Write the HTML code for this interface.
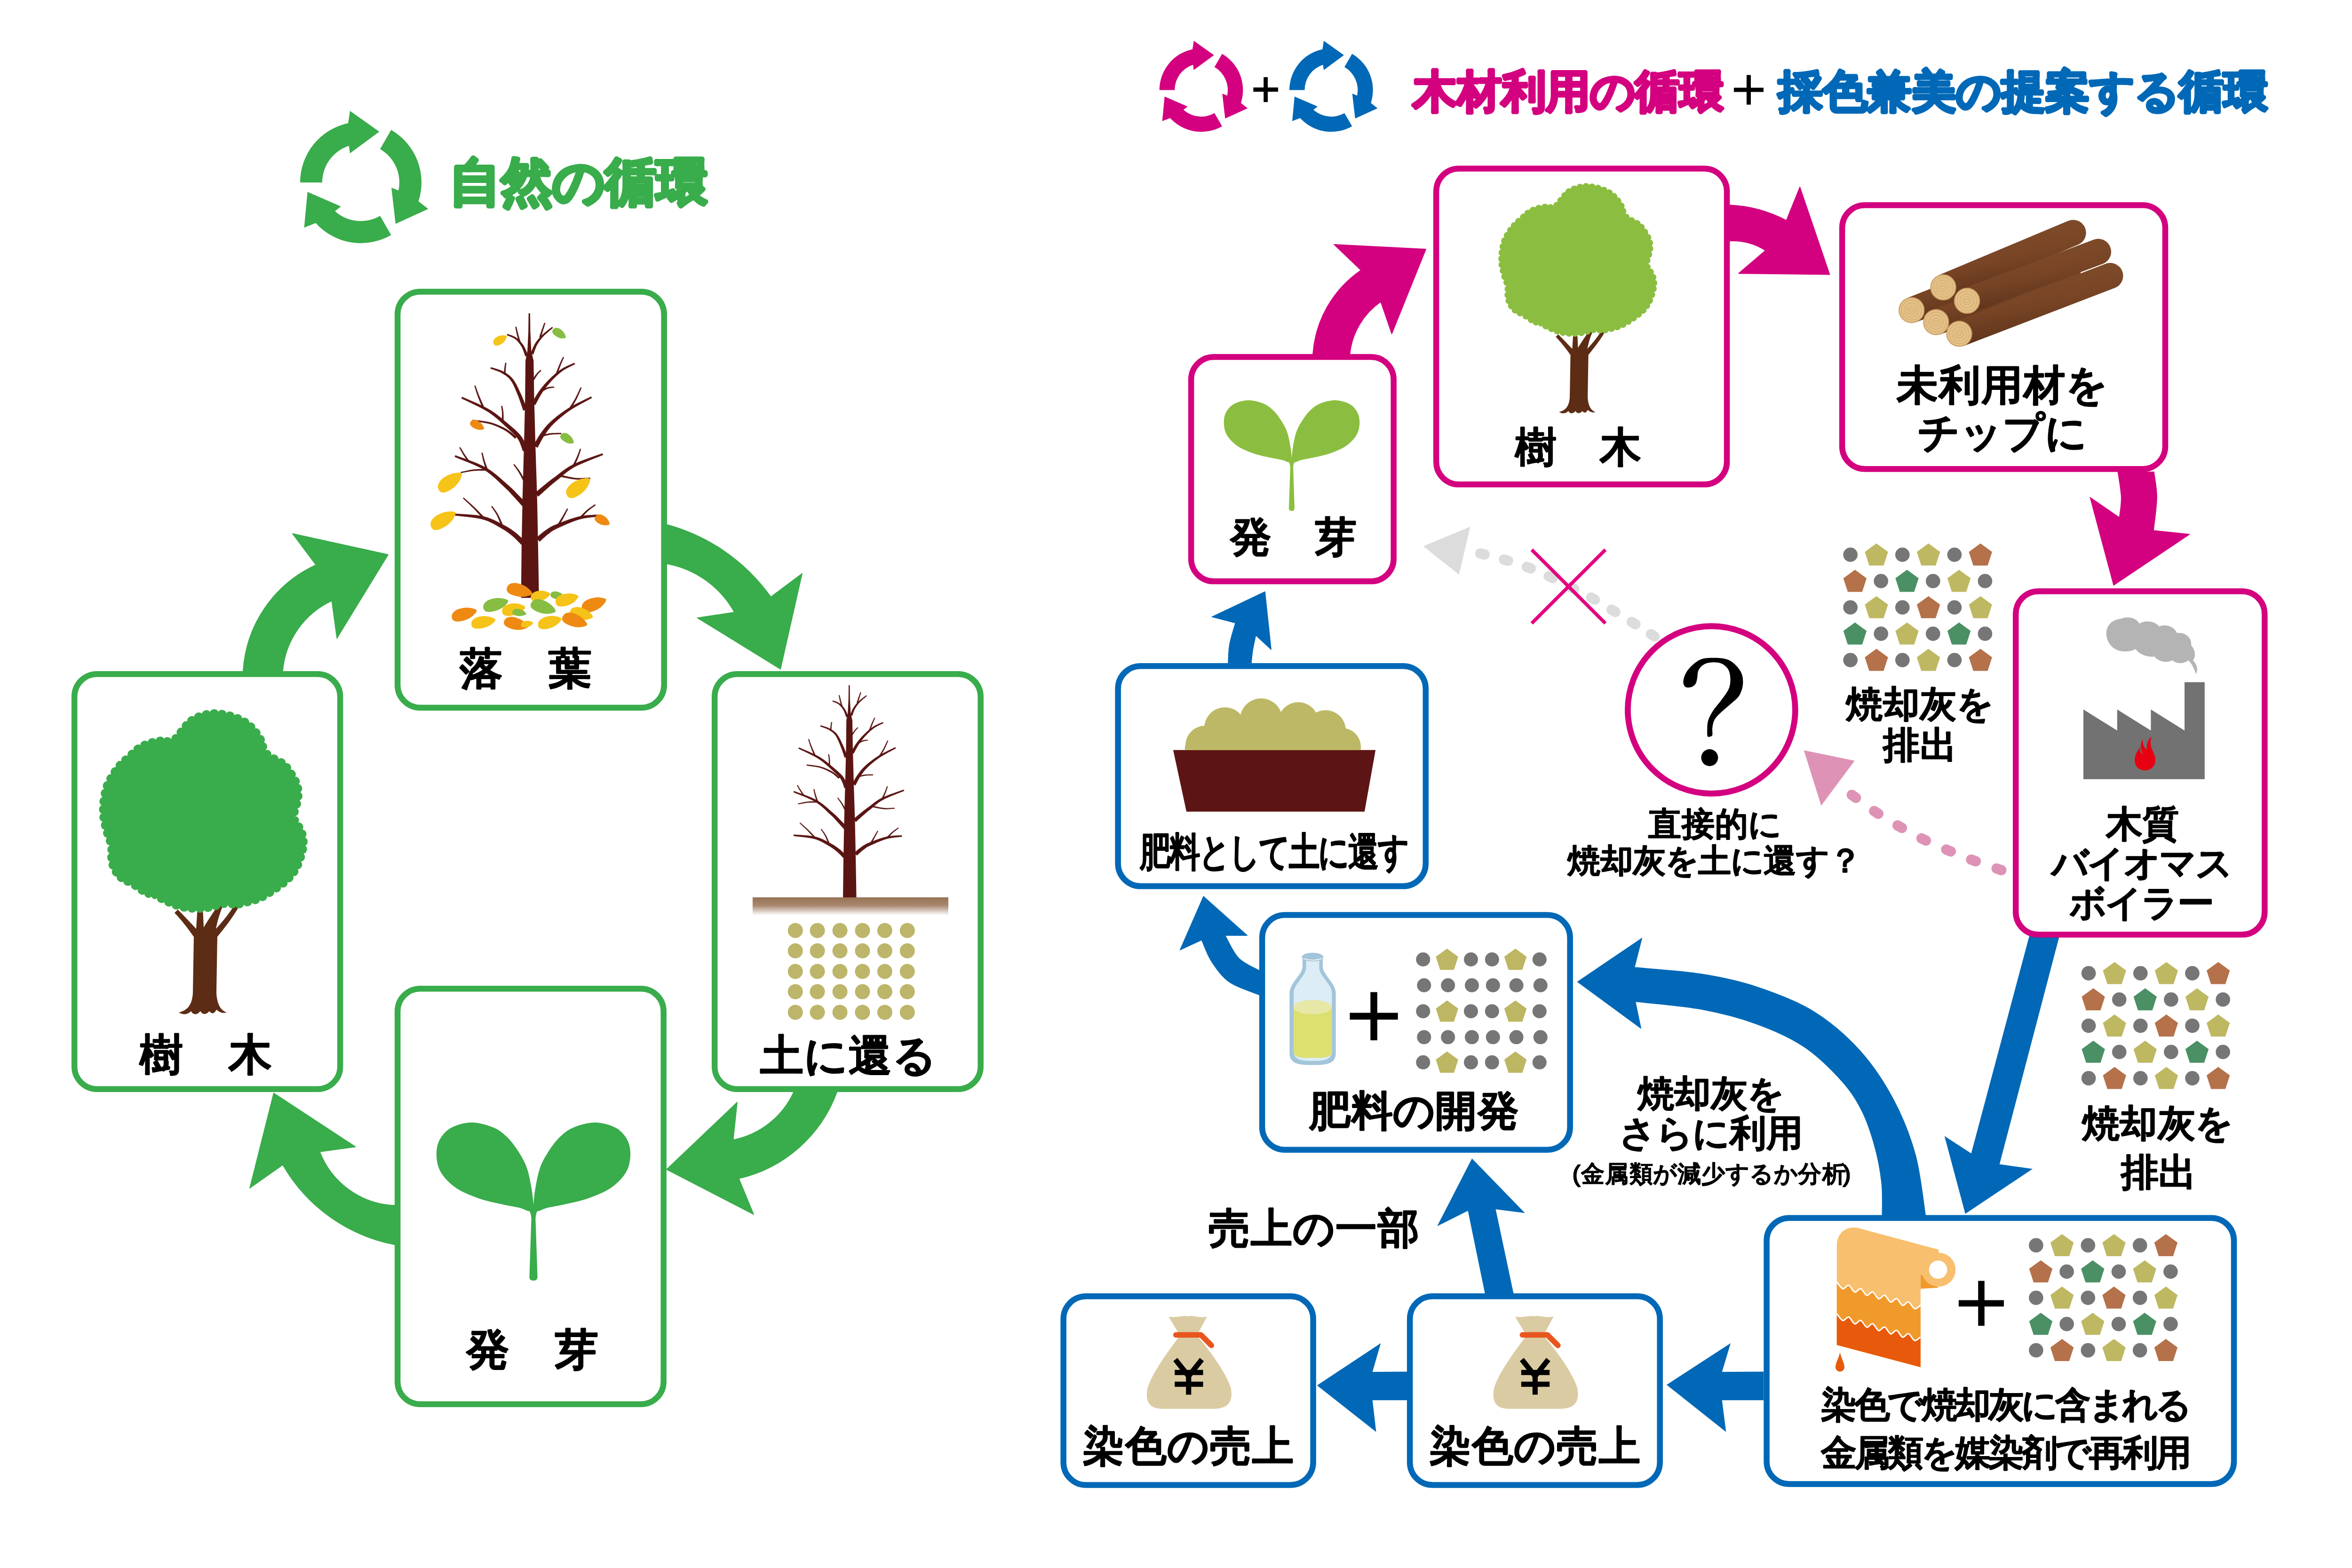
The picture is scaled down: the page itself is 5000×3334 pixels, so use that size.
<!DOCTYPE html>
<html lang="ja"><head><meta charset="utf-8"><title>自然の循環 / 木材利用の循環＋採色兼美の提案する循環</title>
<style>html,body{margin:0;padding:0;background:#fff;width:5000px;height:3334px;overflow:hidden}
svg{display:block;font-family:"Liberation Sans",sans-serif}</style></head><body>
<svg width="5000" height="3334" viewBox="0 0 5000 3334"><rect width="5000" height="3334" fill="#fff"/>
<path d="M638,388 A129,129 0 0 1 740.2,261.8 L744,235.7 L806.3,279.9 L744,326.1 L741.7,310 A82,82 0 0 0 685,388Z M831.5,276.3 A129,129 0 0 1 889.7,427.9 L910.4,444.2 L840.9,476.1 L832.1,399 L847.2,405 A82,82 0 0 0 808,317Z M831.5,499.7 A129,129 0 0 1 671.1,474.3 L646.6,484.1 L653.7,408 L724.9,438.9 L712.1,448.9 A82,82 0 0 0 808,459Z " fill="#39ac4b"/>
<text x="1010 1120 1230 1340 1450" y="424.7" font-size="110" fill="#39ac4b" font-weight="bold" stroke="#39ac4b" stroke-width="6.9" stroke-linejoin="round" text-anchor="middle" font-family="Liberation Sans">自然の循環</text>
<path d="M516.8,1427 A265.7,265.7 0 0 1 671.4,1201.1 L621.7,1134.5 L825.2,1179.3 L716.2,1357.4 L705.3,1277.5 A181.9,181.9 0 0 0 601,1427Z" fill="#39ac4b" stroke="#39ac4b" stroke-width="1.5" stroke-linejoin="round"/>
<path d="M1417,1115.1 A398.9,398.9 0 0 1 1638.6,1269 L1705.3,1219.3 L1659.2,1422.8 L1482.4,1313.8 L1561,1301.7 A206.5,206.5 0 0 0 1417,1198.7Z" fill="#39ac4b" stroke="#39ac4b" stroke-width="1.5" stroke-linejoin="round"/>
<path d="M1779.2,2322.3 A291,291 0 0 1 1570.8,2505.9 L1602.3,2582.3 L1417,2486.6 L1567.2,2343.6 L1558.7,2423.6 A179.7,179.7 0 0 0 1687.1,2322.3Z" fill="#39ac4b" stroke="#39ac4b" stroke-width="1.5" stroke-linejoin="round"/>
<path d="M839,2646.5 A350.6,350.6 0 0 1 601.1,2476.9 L530.9,2526.5 L581.8,2324.2 L756.2,2438.6 L679.9,2449 A178.4,178.4 0 0 0 839,2563Z" fill="#39ac4b" stroke="#39ac4b" stroke-width="1.5" stroke-linejoin="round"/>
<rect x="845.2" y="620.2" width="566.5" height="884.5" rx="48" fill="#fff" stroke="#39ac4b" stroke-width="12.5"/>
<rect x="158.2" y="1433.2" width="565" height="882.5" rx="48" fill="#fff" stroke="#39ac4b" stroke-width="12.5"/>
<rect x="1519.2" y="1433.2" width="565.5" height="882.5" rx="48" fill="#fff" stroke="#39ac4b" stroke-width="12.5"/>
<rect x="845.2" y="2102.2" width="565.5" height="883.5" rx="48" fill="#fff" stroke="#39ac4b" stroke-width="12.5"/>
<text x="1022.5 1211.5" y="1453" font-size="92" fill="#000" stroke="#000" stroke-width="4.6" stroke-linejoin="round" text-anchor="middle" font-family="Liberation Sans">落葉</text>
<text x="343 531.6" y="2274" font-size="92" fill="#000" stroke="#000" stroke-width="4.6" stroke-linejoin="round" text-anchor="middle" font-family="Liberation Sans">樹木</text>
<text x="1661.5 1755.5 1849.5 1943.5" y="2276" font-size="92" fill="#000" stroke="#000" stroke-width="4.6" stroke-linejoin="round" text-anchor="middle" font-family="Liberation Sans">土に還る</text>
<text x="1037 1226" y="2901" font-size="92" fill="#000" stroke="#000" stroke-width="4.6" stroke-linejoin="round" text-anchor="middle" font-family="Liberation Sans">発芽</text>
<path d="M2464.8,191.5 A88.8,88.8 0 0 1 2535.1,104.7 L2537.8,86.7 L2580.7,117.2 L2537.8,148.9 L2536.2,137.8 A56.4,56.4 0 0 0 2497.2,191.5Z M2598,114.6 A88.8,88.8 0 0 1 2638,218.9 L2652.2,230.2 L2604.5,252.1 L2598.4,199.1 L2608.8,203.2 A56.4,56.4 0 0 0 2581.8,142.6Z M2598,268.4 A88.8,88.8 0 0 1 2487.6,250.9 L2470.8,257.6 L2475.7,205.2 L2524.7,226.5 L2515.9,233.4 A56.4,56.4 0 0 0 2581.8,240.4Z " fill="#d3007f"/>
<path d="M2741.1,191.5 A88.8,88.8 0 0 1 2811.4,104.7 L2814.1,86.7 L2857,117.2 L2814.1,148.9 L2812.5,137.8 A56.4,56.4 0 0 0 2773.5,191.5Z M2874.3,114.6 A88.8,88.8 0 0 1 2914.3,218.9 L2928.5,230.2 L2880.8,252.1 L2874.7,199.1 L2885.1,203.2 A56.4,56.4 0 0 0 2858.1,142.6Z M2874.3,268.4 A88.8,88.8 0 0 1 2763.9,250.9 L2747.1,257.6 L2752,205.2 L2801,226.5 L2792.2,233.4 A56.4,56.4 0 0 0 2858.1,240.4Z " fill="#0068b6"/>
<path d="M2664.4,190.5 H2717 M2690.7,164 V217" stroke="#000" stroke-width="8.8"/>
<text x="3050 3144.5 3239 3333.5 3428 3522.5 3617" y="227.2" font-size="95" fill="#d3007f" font-weight="bold" stroke="#d3007f" stroke-width="5.9" stroke-linejoin="round" text-anchor="middle" font-family="Liberation Sans">木材利用の循環</text>
<path d="M3686,191 H3749 M3717.5,159.5 V222.5" stroke="#000" stroke-width="9"/>
<text x="3827.5 3922.2 4016.9 4111.6 4206.3 4301 4395.7 4490.4 4585.1 4679.8 4774.5" y="227.2" font-size="95" fill="#0068b6" font-weight="bold" stroke="#0068b6" stroke-width="5.9" stroke-linejoin="round" text-anchor="middle" font-family="Liberation Sans">採色兼美の提案する循環</text>
<path d="M2791,752.7 A236.7,236.7 0 0 1 2893,574.5 L2835.8,519.8 L3031.3,529.8 L2958.7,709.9 L2935.3,641.7 A155.5,155.5 0 0 0 2869.6,752.7Z" fill="#d3007f" stroke="#d3007f" stroke-width="1.5" stroke-linejoin="round"/>
<path d="M3677.4,436.1 A284.5,284.5 0 0 1 3797.5,468.7 L3826.3,397.5 L3889.7,583.7 L3696,581.4 L3753,532.5 A131.9,131.9 0 0 0 3677.4,512.5Z" fill="#d3007f" stroke="#d3007f" stroke-width="1.5" stroke-linejoin="round"/>
<path d="M4579,1003.5 C4580,1012.5 4585.3,1036.8 4585.1,1057.6 C4584.9,1078.3 4579.2,1116.3 4578,1128 L4654.5,1136.1 L4493.3,1244.3 L4443.3,1057.6 L4505.5,1100.4 C4506.2,1093.3 4510.1,1073.8 4509.6,1057.6 C4509.1,1041.4 4503.6,1012.5 4502.4,1003.5Z" fill="#d3007f" stroke="#d3007f" stroke-width="1.5" stroke-linejoin="round"/>
<path d="M2611,1410 C2611.5,1403.3 2611.4,1384.2 2614,1370 C2616.6,1355.8 2624.2,1332.2 2626.3,1324.6 L2576.4,1311.6 L2689.1,1258.2 L2702.2,1381 L2669.6,1350.6 C2668.5,1356 2664.6,1373.1 2663,1383 C2661.4,1392.9 2660.5,1405.5 2660,1410Z" fill="#0068b6" stroke="#0068b6" stroke-width="1.5" stroke-linejoin="round"/>
<path d="M2677,2115.3 C2666.5,2110.8 2630.9,2100.3 2614,2088.5 C2597.1,2076.7 2585.6,2059.5 2575.7,2044.5 C2565.8,2029.5 2558.1,2006.2 2554.6,1998.6 L2508.7,2019.7 L2558.4,1906 L2651.4,1989 L2604.4,1989 C2609.2,1997 2620.9,2024.5 2633,2036.9 C2645.1,2049.3 2669.7,2059.2 2677,2063.7Z" fill="#0068b6" stroke="#0068b6" stroke-width="1.5" stroke-linejoin="round"/>
<path d="M4093.3,2585 C4089.7,2563.2 4083.1,2496 4071.6,2454.5 C4060.1,2413 4043.9,2372.8 4024.1,2335.9 C4004.3,2299 3981.3,2264 3953,2233 C3924.7,2202 3890.4,2172.4 3854.1,2150 C3817.8,2127.6 3774.9,2111.8 3735.4,2098.6 C3695.9,2085.4 3660.3,2077.9 3616.8,2071 C3573.3,2064.1 3498.2,2059.4 3474.5,2057.1 L3490.3,1995 L3353.8,2087.6 L3488.3,2186.4 L3476.4,2129.5 C3499.8,2132.3 3573.6,2138.1 3616.8,2146.1 C3660,2154.1 3699.2,2164.5 3735.4,2177.7 C3771.7,2190.9 3804.6,2205.4 3834.3,2225.2 C3864,2245 3893,2274 3913.4,2296.4 C3933.8,2318.8 3945,2336.5 3956.9,2359.6 C3968.8,2382.7 3977.4,2409.1 3984.6,2434.8 C3991.8,2460.5 3997.2,2488.9 4000,2513.9 C4002.8,2538.9 4001.2,2573.2 4001.4,2585Z" fill="#0068b6" stroke="#0068b6" stroke-width="1.5" stroke-linejoin="round"/>
<path d="M4314.7,1987.4 L4378.7,1987.4 L4250.7,2475.6 L4321,2485.3 L4177.9,2580.9 L4133.7,2415.4 L4190.5,2452.5Z" fill="#0068b6" />
<path d="M3749.3,2916.4 L3660.8,2917 L3679,2856 L3543,2944.5 L3669.3,3044.7 L3660.8,2977.3 L3749.3,2977.3Z" fill="#0068b6" />
<path d="M2991,2916.4 L2917.7,2917 L2935.3,2856 L2799.8,2945.8 L2925.5,3044.7 L2917.7,2977.3 L2991,2977.3Z" fill="#0068b6" />
<path d="M3156.7,2750 L3120.6,2574.6 L3055.2,2607.3 L3129.2,2463.3 L3241.8,2579.2 L3179.6,2571.3 L3217.5,2750Z" fill="#0068b6" />
<rect x="2532.2" y="759" width="430.5" height="477.1" rx="48" fill="#fff" stroke="#d3007f" stroke-width="12.5"/>
<rect x="3053.2" y="358.6" width="617.9" height="671.5" rx="48" fill="#fff" stroke="#d3007f" stroke-width="12.5"/>
<rect x="3916.2" y="436.2" width="686.8" height="561" rx="48" fill="#fff" stroke="#d3007f" stroke-width="12.5"/>
<rect x="4285.2" y="1257.2" width="529.1" height="730.1" rx="48" fill="#fff" stroke="#d3007f" stroke-width="12.5"/>
<rect x="2376.7" y="1416.2" width="654.1" height="468.1" rx="48" fill="#fff" stroke="#0068b6" stroke-width="12.5"/>
<rect x="2683.2" y="1945.5" width="654.5" height="499.2" rx="48" fill="#fff" stroke="#0068b6" stroke-width="12.5"/>
<rect x="3755.6" y="2589.7" width="993.4" height="565.7" rx="48" fill="#fff" stroke="#0068b6" stroke-width="12.5"/>
<rect x="2997.2" y="2756.2" width="531.5" height="401.3" rx="48" fill="#fff" stroke="#0068b6" stroke-width="12.5"/>
<rect x="2260.7" y="2756.2" width="530.9" height="401.3" rx="48" fill="#fff" stroke="#0068b6" stroke-width="12.5"/>
<text x="2658.5 2839.5" y="1171.6" font-size="88" fill="#000" stroke="#000" stroke-width="4.4" stroke-linejoin="round" text-anchor="middle" font-family="Liberation Sans">発芽</text>
<text x="3265 3444.8" y="981.3" font-size="88" fill="#000" stroke="#000" stroke-width="4.4" stroke-linejoin="round" text-anchor="middle" font-family="Liberation Sans">樹木</text>
<text x="4076.4 4166.2 4256 4345.8 4435.6" y="849.1" font-size="88" fill="#000" stroke="#000" stroke-width="4.4" stroke-linejoin="round" text-anchor="middle" font-family="Liberation Sans">未利用材を</text>
<text x="4122.3 4212.1 4301.9 4391.7" y="949.6" font-size="88" fill="#000" stroke="#000" stroke-width="4.4" stroke-linejoin="round" text-anchor="middle" font-family="Liberation Sans">チップに</text>
<text x="4515.5 4592.5" y="1778.9" font-size="78" fill="#000" stroke="#000" stroke-width="3.9" stroke-linejoin="round" text-anchor="middle" font-family="Liberation Sans">木質</text>
<text x="4400.5 4477 4553.5 4630 4706.5" y="1861.9" font-size="78" fill="#000" stroke="#000" stroke-width="3.9" stroke-linejoin="round" text-anchor="middle" font-family="Liberation Sans">バイオマス</text>
<text x="4438.8 4515.2 4591.8 4668.2" y="1946.6" font-size="78" fill="#000" stroke="#000" stroke-width="3.9" stroke-linejoin="round" text-anchor="middle" font-family="Liberation Sans">ボイラー</text>
<text x="3962.9 4041.7 4120.4 4199.1" y="1523.9" font-size="78" fill="#000" stroke="#000" stroke-width="3.9" stroke-linejoin="round" text-anchor="middle" font-family="Liberation Sans">焼却灰を</text>
<text x="4042.2 4120.9" y="1610.9" font-size="78" fill="#000" stroke="#000" stroke-width="3.9" stroke-linejoin="round" text-anchor="middle" font-family="Liberation Sans">排出</text>
<text x="3539.2 3610.1 3680.9 3751.8" y="1776.2" font-size="70" fill="#000" stroke="#000" stroke-width="3.5" stroke-linejoin="round" text-anchor="middle" font-family="Liberation Sans">直接的に</text>
<text x="3367 3436.5 3506 3575.5 3645 3714.5 3784 3853.5 3923" y="1853.7" font-size="70" fill="#000" stroke="#000" stroke-width="3.5" stroke-linejoin="round" text-anchor="middle" font-family="Liberation Sans">焼却灰を土に還す？</text>
<text transform="scale(0.78,1)" x="3148.5 3229.6 3310.8 3391.9 3473.1 3554.2 3635.4 3716.5 3797.7" y="1840.1" font-size="84" fill="#000" stroke="#000" stroke-width="4.2" stroke-linejoin="round" text-anchor="middle" font-family="Liberation Sans">肥料として土に還す</text>
<text x="2827.2 2916.6 3006 3095.4 3184.8" y="2391.6" font-size="88" fill="#000" stroke="#000" stroke-width="4.4" stroke-linejoin="round" text-anchor="middle" font-family="Liberation Sans">肥料の開発</text>
<text x="3520 3598 3676 3754" y="2351.7" font-size="78" fill="#000" stroke="#000" stroke-width="3.9" stroke-linejoin="round" text-anchor="middle" font-family="Liberation Sans">焼却灰を</text>
<text x="3482.2 3560.1 3638 3715.9 3793.8" y="2435.9" font-size="78" fill="#000" stroke="#000" stroke-width="3.9" stroke-linejoin="round" text-anchor="middle" font-family="Liberation Sans">さらに利用</text>
<text x="3386 3437.3 3488.5 3539.8 3591 3642.3 3693.6 3744.8 3796.1 3847.3 3898.6" y="2512.9" font-size="50" fill="#000" stroke="#000" stroke-width="2.5" stroke-linejoin="round" text-anchor="middle" font-family="Liberation Sans">金属類が減少するか分析</text>
<text x="3351" y="2512.9" font-size="50" fill="#000" stroke="#000" stroke-width="2.5" stroke-linejoin="round" text-anchor="middle" font-family="Liberation Sans">(</text>
<text x="3926" y="2512.9" font-size="50" fill="#000" stroke="#000" stroke-width="2.5" stroke-linejoin="round" text-anchor="middle" font-family="Liberation Sans">)</text>
<defs><linearGradient id="soil" x1="0" y1="0" x2="0" y2="1"><stop offset="0" stop-color="#987254"/><stop offset="0.45" stop-color="#a7876e"/><stop offset="1" stop-color="#fff"/></linearGradient><linearGradient id="logg" x1="0" y1="0" x2="0.35" y2="1"><stop offset="0" stop-color="#84502e"/><stop offset="0.6" stop-color="#774425"/><stop offset="1" stop-color="#5a3018"/></linearGradient></defs>
<g ><path d="M380,2153 C398,2148 408,2138 410,2112 L412,1992 C400,1975 385,1955 371,1941 L378,1934 C392,1948 405,1962 417,1975 L420,1928 L431,1928 L433,1972 C443,1955 455,1938 464,1924 L473,1928 C466,1945 462,1960 459,1975 C473,1960 486,1944 498,1925 L506,1931 C494,1952 478,1972 462,1992 L460,2112 C462,2138 470,2148 482,2153 C470,2156 465,2150 460,2147 C456,2154 452,2158 445,2150 C440,2156 432,2160 426,2150 C420,2157 412,2160 406,2150 C398,2158 390,2158 380,2153Z" fill="#5d2c14"/><path d="M464,1513.2 A9.9,9.9 0 0 1 481.3,1516.2 A9.9,9.9 0 0 1 498.4,1520.7 A9.8,9.8 0 0 1 514.6,1527.4 A9.8,9.8 0 0 1 529.6,1536.6 A9.8,9.8 0 0 1 542.3,1548.7 A9.9,9.9 0 0 1 552.8,1562.8 A9.8,9.8 0 0 1 561.1,1578.3 A9.7,9.7 0 0 1 564,1595.3 A9.1,9.1 0 0 1 576.4,1606.1 A9.9,9.9 0 0 1 592.1,1613.8 A9.8,9.8 0 0 1 607.3,1622.8 A9.8,9.8 0 0 1 618.1,1636.5 A9.9,9.9 0 0 1 627.4,1651.4 A9.8,9.8 0 0 1 635.2,1667.2 A9.8,9.8 0 0 1 638.5,1684.4 A9.8,9.8 0 0 1 636.5,1701.8 A9.9,9.9 0 0 1 632.2,1718.9 A9.8,9.8 0 0 1 626.5,1735.5 A8.6,8.6 0 0 1 634.2,1748.8 A9.8,9.8 0 0 1 643.1,1763.8 A9.8,9.8 0 0 1 648.4,1780.6 A9.8,9.8 0 0 1 648.9,1798.1 A9.8,9.8 0 0 1 645.3,1815.3 A9.9,9.9 0 0 1 639.9,1832.1 A9.8,9.8 0 0 1 633.1,1848.3 A9.8,9.8 0 0 1 623.2,1862.8 A9.8,9.8 0 0 1 611.1,1875.6 A9.9,9.9 0 0 1 597.2,1886.3 A9.9,9.9 0 0 1 582.7,1896.3 A9.9,9.9 0 0 1 567.9,1905.8 A9.9,9.9 0 0 1 552.3,1914 A9.8,9.8 0 0 1 535.7,1919.6 A9.9,9.9 0 0 1 518.5,1923.5 A9.9,9.9 0 0 1 501.4,1927.8 A9.6,9.6 0 0 1 484.7,1924.3 A9.2,9.2 0 0 1 468.3,1926.5 A9.8,9.8 0 0 1 451.6,1932 A9.8,9.8 0 0 1 434.3,1934.9 A9.9,9.9 0 0 1 416.7,1935.8 A9.9,9.9 0 0 1 399.2,1934.5 A9.9,9.9 0 0 1 381.9,1931.2 A9.8,9.8 0 0 1 365.3,1925.4 A9.9,9.9 0 0 1 349.2,1918.3 A9.8,9.8 0 0 1 333.8,1909.8 A6.7,6.7 0 0 1 322.4,1906.2 A9,9 0 0 1 307,1901.6 A9.9,9.9 0 0 1 293,1891 A9.8,9.8 0 0 1 278.5,1881 A9.8,9.8 0 0 1 262.2,1874.5 A9.8,9.8 0 0 1 248.4,1863.7 A9.8,9.8 0 0 1 239.3,1848.8 A9.8,9.8 0 0 1 233.7,1832.1 A9.8,9.8 0 0 1 233.1,1814.6 A9.6,9.6 0 0 1 234,1797.5 A9.9,9.9 0 0 1 227.3,1781.2 A9.9,9.9 0 0 1 222.1,1764.4 A9.9,9.9 0 0 1 218.1,1747.3 A9.8,9.8 0 0 1 215.8,1729.8 A9.9,9.9 0 0 1 216,1712.2 A9.9,9.9 0 0 1 217.9,1694.7 A9.9,9.9 0 0 1 221.2,1677.5 A9.8,9.8 0 0 1 227.6,1661.1 A9.9,9.9 0 0 1 236.4,1645.9 A9.9,9.9 0 0 1 246.5,1631.4 A9.8,9.8 0 0 1 258,1618.2 A9.9,9.9 0 0 1 271.7,1607.1 A9.9,9.9 0 0 1 283.9,1594.4 A9.8,9.8 0 0 1 298.2,1584.3 A9.8,9.8 0 0 1 314.2,1577 A9.9,9.9 0 0 1 331.3,1572.9 A9.9,9.9 0 0 1 348.8,1570.5 A9.4,9.4 0 0 1 365.1,1574.4 A9.8,9.8 0 0 1 376.4,1561.1 A9.9,9.9 0 0 1 387.4,1547.3 A9.8,9.8 0 0 1 398.2,1533.5 A9.8,9.8 0 0 1 412.9,1523.9 A9.8,9.8 0 0 1 429.3,1517.5 A9.9,9.9 0 0 1 446.5,1513.6 A9.8,9.8 0 0 1 464,1513.2Z" fill="#39ac4b"/></g>
<g transform="translate(3190,392.8) scale(0.762,0.755) translate(-217,-1512.7)"><path d="M380,2153 C398,2148 408,2138 410,2112 L412,1992 C400,1975 385,1955 371,1941 L378,1934 C392,1948 405,1962 417,1975 L420,1928 L431,1928 L433,1972 C443,1955 455,1938 464,1924 L473,1928 C466,1945 462,1960 459,1975 C473,1960 486,1944 498,1925 L506,1931 C494,1952 478,1972 462,1992 L460,2112 C462,2138 470,2148 482,2153 C470,2156 465,2150 460,2147 C456,2154 452,2158 445,2150 C440,2156 432,2160 426,2150 C420,2157 412,2160 406,2150 C398,2158 390,2158 380,2153Z" fill="#5d2c14"/><path d="M464,1513.2 A9.9,9.9 0 0 1 481.3,1516.2 A9.9,9.9 0 0 1 498.4,1520.7 A9.8,9.8 0 0 1 514.6,1527.4 A9.8,9.8 0 0 1 529.6,1536.6 A9.8,9.8 0 0 1 542.3,1548.7 A9.9,9.9 0 0 1 552.8,1562.8 A9.8,9.8 0 0 1 561.1,1578.3 A9.7,9.7 0 0 1 564,1595.3 A9.1,9.1 0 0 1 576.4,1606.1 A9.9,9.9 0 0 1 592.1,1613.8 A9.8,9.8 0 0 1 607.3,1622.8 A9.8,9.8 0 0 1 618.1,1636.5 A9.9,9.9 0 0 1 627.4,1651.4 A9.8,9.8 0 0 1 635.2,1667.2 A9.8,9.8 0 0 1 638.5,1684.4 A9.8,9.8 0 0 1 636.5,1701.8 A9.9,9.9 0 0 1 632.2,1718.9 A9.8,9.8 0 0 1 626.5,1735.5 A8.6,8.6 0 0 1 634.2,1748.8 A9.8,9.8 0 0 1 643.1,1763.8 A9.8,9.8 0 0 1 648.4,1780.6 A9.8,9.8 0 0 1 648.9,1798.1 A9.8,9.8 0 0 1 645.3,1815.3 A9.9,9.9 0 0 1 639.9,1832.1 A9.8,9.8 0 0 1 633.1,1848.3 A9.8,9.8 0 0 1 623.2,1862.8 A9.8,9.8 0 0 1 611.1,1875.6 A9.9,9.9 0 0 1 597.2,1886.3 A9.9,9.9 0 0 1 582.7,1896.3 A9.9,9.9 0 0 1 567.9,1905.8 A9.9,9.9 0 0 1 552.3,1914 A9.8,9.8 0 0 1 535.7,1919.6 A9.9,9.9 0 0 1 518.5,1923.5 A9.9,9.9 0 0 1 501.4,1927.8 A9.6,9.6 0 0 1 484.7,1924.3 A9.2,9.2 0 0 1 468.3,1926.5 A9.8,9.8 0 0 1 451.6,1932 A9.8,9.8 0 0 1 434.3,1934.9 A9.9,9.9 0 0 1 416.7,1935.8 A9.9,9.9 0 0 1 399.2,1934.5 A9.9,9.9 0 0 1 381.9,1931.2 A9.8,9.8 0 0 1 365.3,1925.4 A9.9,9.9 0 0 1 349.2,1918.3 A9.8,9.8 0 0 1 333.8,1909.8 A6.7,6.7 0 0 1 322.4,1906.2 A9,9 0 0 1 307,1901.6 A9.9,9.9 0 0 1 293,1891 A9.8,9.8 0 0 1 278.5,1881 A9.8,9.8 0 0 1 262.2,1874.5 A9.8,9.8 0 0 1 248.4,1863.7 A9.8,9.8 0 0 1 239.3,1848.8 A9.8,9.8 0 0 1 233.7,1832.1 A9.8,9.8 0 0 1 233.1,1814.6 A9.6,9.6 0 0 1 234,1797.5 A9.9,9.9 0 0 1 227.3,1781.2 A9.9,9.9 0 0 1 222.1,1764.4 A9.9,9.9 0 0 1 218.1,1747.3 A9.8,9.8 0 0 1 215.8,1729.8 A9.9,9.9 0 0 1 216,1712.2 A9.9,9.9 0 0 1 217.9,1694.7 A9.9,9.9 0 0 1 221.2,1677.5 A9.8,9.8 0 0 1 227.6,1661.1 A9.9,9.9 0 0 1 236.4,1645.9 A9.9,9.9 0 0 1 246.5,1631.4 A9.8,9.8 0 0 1 258,1618.2 A9.9,9.9 0 0 1 271.7,1607.1 A9.9,9.9 0 0 1 283.9,1594.4 A9.8,9.8 0 0 1 298.2,1584.3 A9.8,9.8 0 0 1 314.2,1577 A9.9,9.9 0 0 1 331.3,1572.9 A9.9,9.9 0 0 1 348.8,1570.5 A9.4,9.4 0 0 1 365.1,1574.4 A9.8,9.8 0 0 1 376.4,1561.1 A9.9,9.9 0 0 1 387.4,1547.3 A9.8,9.8 0 0 1 398.2,1533.5 A9.8,9.8 0 0 1 412.9,1523.9 A9.8,9.8 0 0 1 429.3,1517.5 A9.9,9.9 0 0 1 446.5,1513.6 A9.8,9.8 0 0 1 464,1513.2Z" fill="#8bbe40"/></g>
<g transform="translate(1134,2561) scale(1.0)" fill="#39ac4b"><path d="M0,0 C0,0 0.6,5.3 0,0 C-0.6,-5.3 -1.5,-19.3 -3.7,-32 C-6,-44.7 -9,-63.2 -13.5,-76.3 C-18,-89.4 -23.8,-99.6 -30.8,-110.7 C-37.8,-121.8 -46.4,-133.9 -55.4,-142.7 C-64.4,-151.5 -72.2,-158.3 -84.9,-163.6 C-97.6,-168.8 -116.4,-174.4 -131.6,-174.2 C-146.8,-174 -164.4,-168.9 -175.9,-162.4 C-187.4,-155.9 -195.5,-145.6 -200.5,-135.3 C-205.5,-125.1 -206.7,-112.4 -205.9,-100.9 C-205.1,-89.4 -202.7,-77.5 -195.6,-66.4 C-188.5,-55.3 -177.1,-43.4 -163.6,-34.4 C-150.1,-25.4 -130.8,-18 -114.4,-12.3 C-98,-6.6 -79.6,-3.3 -65.2,0 C-50.9,3.3 -37.8,5.1 -28.3,7.4 C-18.8,9.7 -12.7,15.2 -8,14 C-3.3,12.8 -1.3,2.3 0,0 C1.3,-2.3 0,0 0,0Z"/><path d="M0,0 C0,0 -0.6,5.3 0,0 C0.6,-5.3 1.5,-19.3 3.7,-32 C6,-44.7 9,-63.2 13.5,-76.3 C18,-89.4 23.8,-99.6 30.8,-110.7 C37.8,-121.8 46.4,-133.9 55.4,-142.7 C64.4,-151.5 72.2,-158.3 84.9,-163.6 C97.6,-168.8 116.4,-174.4 131.6,-174.2 C146.8,-174 164.4,-168.9 175.9,-162.4 C187.4,-155.9 195.5,-145.6 200.5,-135.3 C205.5,-125.1 206.7,-112.4 205.9,-100.9 C205.1,-89.4 202.7,-77.5 195.6,-66.4 C188.5,-55.3 177.1,-43.4 163.6,-34.4 C150.1,-25.4 130.8,-18 114.4,-12.3 C98,-6.6 79.6,-3.3 65.2,0 C50.9,3.3 37.8,5.1 28.3,7.4 C18.8,9.7 12.7,15.2 8,14 C3.3,12.8 1.3,2.3 0,0 C-1.3,-2.3 0,0 0,0Z"/><path d="M-12,10 C-6,15 -4.5,24 -4.5,32 L-8.6,154 Q-8.6,162 0,162 Q8.6,162 8.6,154 L4.5,32 C4.5,24 6,15 12,10 L0,0Z"/></g>
<g transform="translate(2746,973) scale(0.7)" fill="#8bbe40"><path d="M0,0 C0,0 0.6,5.3 0,0 C-0.6,-5.3 -1.5,-19.3 -3.7,-32 C-6,-44.7 -9,-63.2 -13.5,-76.3 C-18,-89.4 -23.8,-99.6 -30.8,-110.7 C-37.8,-121.8 -46.4,-133.9 -55.4,-142.7 C-64.4,-151.5 -72.2,-158.3 -84.9,-163.6 C-97.6,-168.8 -116.4,-174.4 -131.6,-174.2 C-146.8,-174 -164.4,-168.9 -175.9,-162.4 C-187.4,-155.9 -195.5,-145.6 -200.5,-135.3 C-205.5,-125.1 -206.7,-112.4 -205.9,-100.9 C-205.1,-89.4 -202.7,-77.5 -195.6,-66.4 C-188.5,-55.3 -177.1,-43.4 -163.6,-34.4 C-150.1,-25.4 -130.8,-18 -114.4,-12.3 C-98,-6.6 -79.6,-3.3 -65.2,0 C-50.9,3.3 -37.8,5.1 -28.3,7.4 C-18.8,9.7 -12.7,15.2 -8,14 C-3.3,12.8 -1.3,2.3 0,0 C1.3,-2.3 0,0 0,0Z"/><path d="M0,0 C0,0 -0.6,5.3 0,0 C0.6,-5.3 1.5,-19.3 3.7,-32 C6,-44.7 9,-63.2 13.5,-76.3 C18,-89.4 23.8,-99.6 30.8,-110.7 C37.8,-121.8 46.4,-133.9 55.4,-142.7 C64.4,-151.5 72.2,-158.3 84.9,-163.6 C97.6,-168.8 116.4,-174.4 131.6,-174.2 C146.8,-174 164.4,-168.9 175.9,-162.4 C187.4,-155.9 195.5,-145.6 200.5,-135.3 C205.5,-125.1 206.7,-112.4 205.9,-100.9 C205.1,-89.4 202.7,-77.5 195.6,-66.4 C188.5,-55.3 177.1,-43.4 163.6,-34.4 C150.1,-25.4 130.8,-18 114.4,-12.3 C98,-6.6 79.6,-3.3 65.2,0 C50.9,3.3 37.8,5.1 28.3,7.4 C18.8,9.7 12.7,15.2 8,14 C3.3,12.8 1.3,2.3 0,0 C-1.3,-2.3 0,0 0,0Z"/><path d="M-12,10 C-6,15 -4.5,24 -4.5,32 L-8.6,154 Q-8.6,162 0,162 Q8.6,162 8.6,154 L4.5,32 C4.5,24 6,15 12,10 L0,0Z"/></g>
<path d="M1123.7,666.3 L1123.2,705.3 L1121.2,746.3 L1117.1,766.8 L1116.3,848.8 L1113.8,951.4 L1110.9,1053.9 L1108.9,1156.5 L1107.7,1271.3 L1145.8,1271.3 L1143.8,1156.5 L1141.7,1053.9 L1138.4,951.4 L1135.6,848.8 L1134.3,766.8 L1129.4,746.3 L1127.4,705.3 L1126.9,666.3Z" fill="#5a1512"/><path d="M1122.2,755.5 L1121.6,753.9 L1120.7,751.8 L1119.7,749.2 L1118.6,746.4 L1117.3,743.4 L1115.9,740.3 L1114.5,737.4 L1112.9,734.8 L1111.3,732.5 L1109.6,730.2 L1107.8,727.9 L1105.9,725.7 L1103.9,723.7 L1101.9,721.7 L1099.8,719.9 L1097.6,718.2 L1095.2,716.7 L1092.5,715.4 L1089.8,714.2 L1087,713.1 L1084.4,712.2 L1082,711.5 L1080,710.8 L1078.6,710.3 L1077.7,712.6 L1079.1,713.2 L1081.1,713.9 L1083.4,714.8 L1085.9,715.9 L1088.5,717 L1091.1,718.2 L1093.5,719.6 L1095.6,721 L1097.4,722.6 L1099.3,724.4 L1101.1,726.3 L1102.8,728.4 L1104.5,730.5 L1106.1,732.7 L1107.6,735 L1109,737.2 L1110.2,739.6 L1111.5,742.4 L1112.6,745.3 L1113.7,748.3 L1114.7,751.1 L1115.5,753.7 L1116.3,755.9 L1116.9,757.6Z" fill="#5a1512" stroke="#5a1512" stroke-width="0.6" stroke-linejoin="round"/><path d="M1106.4,727.4 L1106,726 L1105.4,724 L1104.7,721.7 L1104,719.1 L1103.2,716.4 L1102.4,713.8 L1101.7,711.3 L1101.1,709.1 L1100.6,707 L1100,704.9 L1099.5,702.8 L1099,700.8 L1098.6,698.9 L1098.2,697.3 L1097.8,695.9 L1097.6,694.8 L1095.6,695.2 L1095.8,696.3 L1096.1,697.7 L1096.4,699.4 L1096.8,701.3 L1097.2,703.3 L1097.7,705.4 L1098.1,707.6 L1098.6,709.7 L1099.1,711.9 L1099.8,714.5 L1100.4,717.2 L1101.1,719.9 L1101.8,722.5 L1102.3,724.8 L1102.8,726.8 L1103.2,728.3Z" fill="#5a1512" stroke="#5a1512" stroke-width="0.6" stroke-linejoin="round"/><path d="M1133.7,753.5 L1134.3,751.8 L1135.1,749.7 L1135.9,747.1 L1136.9,744.3 L1138,741.4 L1139.2,738.4 L1140.4,735.6 L1141.7,733.1 L1143.1,730.8 L1144.5,728.4 L1146.1,726.1 L1147.8,723.8 L1149.5,721.5 L1151.3,719.3 L1153.3,717 L1155.3,714.8 L1157.6,712.4 L1160.3,709.9 L1163.2,707.4 L1166.1,704.9 L1168.9,702.5 L1171.5,700.4 L1173.7,698.6 L1175.3,697.2 L1173.7,695.3 L1172.1,696.6 L1169.9,698.3 L1167.2,700.3 L1164.2,702.5 L1161.1,704.9 L1158.1,707.4 L1155.2,709.9 L1152.7,712.2 L1150.5,714.4 L1148.4,716.6 L1146.4,718.9 L1144.4,721.2 L1142.6,723.5 L1140.8,725.9 L1139.2,728.3 L1137.6,730.8 L1136.1,733.4 L1134.6,736.4 L1133.2,739.4 L1132,742.4 L1130.8,745.2 L1129.8,747.7 L1129,749.8 L1128.4,751.4Z" fill="#5a1512" stroke="#5a1512" stroke-width="0.6" stroke-linejoin="round"/><path d="M1149.8,717.3 L1150.3,715.9 L1150.8,713.9 L1151.5,711.7 L1152.3,709.2 L1153.1,706.6 L1153.9,704 L1154.6,701.6 L1155.2,699.5 L1155.8,697.6 L1156.4,695.8 L1157,693.9 L1157.5,692.2 L1158,690.6 L1158.4,689.2 L1158.8,688.1 L1159.1,687.1 L1157.1,686.5 L1156.8,687.4 L1156.4,688.6 L1155.9,689.9 L1155.4,691.5 L1154.7,693.2 L1154.1,695 L1153.5,696.8 L1152.8,698.7 L1152.1,700.8 L1151.3,703.1 L1150.4,705.7 L1149.5,708.2 L1148.6,710.7 L1147.8,713 L1147.2,714.9 L1146.7,716.2Z" fill="#5a1512" stroke="#5a1512" stroke-width="0.6" stroke-linejoin="round"/><path d="M1120.1,870 L1119.2,867.7 L1118.1,864.6 L1116.7,860.9 L1115.1,856.8 L1113.4,852.4 L1111.6,847.9 L1109.8,843.5 L1107.9,839.3 L1106,835.2 L1104,830.9 L1102,826.5 L1099.8,822.1 L1097.6,817.7 L1095.3,813.6 L1092.9,809.7 L1090.5,806.3 L1087.9,803.3 L1085.3,800.7 L1082.7,798.3 L1080,796.3 L1077.3,794.5 L1074.5,792.8 L1071.7,791.2 L1068.8,789.6 L1065.6,788.1 L1062.1,786.7 L1058.5,785.4 L1054.8,784.3 L1051.3,783.2 L1048.2,782.4 L1045.6,781.6 L1043.7,781 L1042.8,783.7 L1044.7,784.4 L1047.3,785.3 L1050.4,786.3 L1053.8,787.5 L1057.3,788.8 L1060.7,790.1 L1064,791.6 L1066.9,793.2 L1069.6,794.8 L1072.3,796.4 L1074.8,798.1 L1077.3,800 L1079.6,801.9 L1081.9,804.1 L1084.2,806.6 L1086.3,809.4 L1088.4,812.6 L1090.5,816.3 L1092.5,820.3 L1094.5,824.6 L1096.4,829 L1098.2,833.5 L1100,837.8 L1101.7,842 L1103.3,846.1 L1104.9,850.5 L1106.5,855 L1108,859.4 L1109.4,863.5 L1110.6,867.2 L1111.6,870.4 L1112.4,872.8Z" fill="#5a1512" stroke="#5a1512" stroke-width="0.6" stroke-linejoin="round"/><path d="M1074.4,796.4 L1074.5,795.4 L1074.5,794 L1074.5,792.4 L1074.6,790.6 L1074.7,788.7 L1074.7,786.8 L1074.8,785 L1074.9,783.3 L1075.1,781.8 L1075.2,780.1 L1075.4,778.4 L1075.6,776.8 L1075.8,775.3 L1076,773.9 L1076.2,772.8 L1076.3,771.9 L1074.2,771.6 L1074.1,772.4 L1073.9,773.6 L1073.6,774.9 L1073.4,776.5 L1073.1,778.1 L1072.8,779.8 L1072.5,781.5 L1072.3,783.1 L1072.1,784.7 L1071.9,786.6 L1071.8,788.5 L1071.6,790.4 L1071.5,792.2 L1071.3,793.9 L1071.2,795.2 L1071.2,796.2Z" fill="#5a1512" stroke="#5a1512" stroke-width="0.6" stroke-linejoin="round"/><path d="M1137.9,861.1 L1139,859 L1140.5,856.2 L1142.2,852.8 L1144.2,849.2 L1146.2,845.3 L1148.4,841.5 L1150.6,837.8 L1152.7,834.4 L1154.9,831.2 L1157.2,828.1 L1159.6,824.9 L1162,821.8 L1164.5,818.7 L1167.1,815.7 L1169.7,812.7 L1172.4,809.8 L1175.2,806.8 L1178,803.9 L1181,801.1 L1183.9,798.3 L1187,795.6 L1190,793 L1193.1,790.5 L1196.2,788.2 L1199.5,786 L1203.1,783.9 L1206.9,781.9 L1210.6,779.9 L1214.2,778.2 L1217.5,776.6 L1220.3,775.3 L1222.3,774.2 L1221.1,771.7 L1219,772.6 L1216.2,773.8 L1212.9,775.2 L1209.2,776.8 L1205.2,778.6 L1201.3,780.6 L1197.4,782.6 L1193.9,784.8 L1190.6,787 L1187.3,789.4 L1184,792 L1180.7,794.6 L1177.6,797.4 L1174.4,800.2 L1171.4,803 L1168.4,805.9 L1165.6,808.8 L1162.7,811.7 L1159.9,814.7 L1157.2,817.8 L1154.6,820.9 L1152,824.1 L1149.5,827.2 L1147.1,830.5 L1144.7,833.9 L1142.2,837.7 L1139.8,841.6 L1137.5,845.4 L1135.4,849.1 L1133.5,852.3 L1132,855.1 L1130.8,857.1Z" fill="#5a1512" stroke="#5a1512" stroke-width="0.6" stroke-linejoin="round"/><path d="M1185.1,794.9 L1185.6,793.3 L1186.4,791.3 L1187.2,788.8 L1188.2,786.1 L1189.2,783.3 L1190.2,780.5 L1191.2,777.9 L1192.1,775.5 L1193,773.3 L1194,771 L1195,768.7 L1195.9,766.5 L1196.8,764.4 L1197.6,762.6 L1198.3,761 L1198.8,759.8 L1197,759 L1196.4,760.2 L1195.7,761.7 L1194.8,763.5 L1193.8,765.5 L1192.8,767.7 L1191.7,770 L1190.7,772.3 L1189.7,774.5 L1188.7,776.9 L1187.6,779.5 L1186.5,782.3 L1185.4,785.1 L1184.4,787.8 L1183.4,790.2 L1182.6,792.2 L1182,793.7Z" fill="#5a1512" stroke="#5a1512" stroke-width="0.6" stroke-linejoin="round"/><path d="M1134.9,808.7 L1135.5,807.7 L1136.3,806.4 L1137.3,804.7 L1138.3,803 L1139.5,801.2 L1140.6,799.4 L1141.7,797.7 L1142.7,796.3 L1143.7,795.1 L1144.8,793.8 L1146,792.6 L1147.1,791.5 L1148.2,790.4 L1149.2,789.5 L1150,788.7 L1150.6,788.1 L1149.2,786.6 L1148.6,787.1 L1147.7,787.9 L1146.7,788.8 L1145.5,789.8 L1144.3,790.9 L1143.1,792.1 L1141.8,793.4 L1140.7,794.7 L1139.5,796.2 L1138.3,797.8 L1137.1,799.6 L1135.8,801.4 L1134.7,803.1 L1133.6,804.7 L1132.8,806 L1132.1,806.9Z" fill="#5a1512" stroke="#5a1512" stroke-width="0.6" stroke-linejoin="round"/><path d="M1151.9,833.1 L1152.9,832.5 L1154.3,831.7 L1155.8,830.8 L1157.6,829.8 L1159.4,828.8 L1161.2,827.8 L1163,827 L1164.7,826.3 L1166.3,825.8 L1168.2,825.4 L1170.1,825 L1172,824.8 L1173.8,824.5 L1175.5,824.3 L1176.9,824.2 L1177.9,824 L1177.7,822 L1176.6,822.1 L1175.3,822.2 L1173.6,822.3 L1171.7,822.5 L1169.7,822.7 L1167.7,822.9 L1165.7,823.3 L1163.9,823.8 L1162,824.4 L1160.1,825.3 L1158.1,826.2 L1156.1,827.1 L1154.3,828.1 L1152.7,828.9 L1151.4,829.7 L1150.4,830.2Z" fill="#5a1512" stroke="#5a1512" stroke-width="0.6" stroke-linejoin="round"/><path d="M1120.9,955.8 L1120.1,953.8 L1119.1,951.1 L1117.9,947.8 L1116.5,944.1 L1114.8,940.1 L1113,936.1 L1110.8,932.1 L1108.4,928.4 L1105.8,925.1 L1103.1,922 L1100.2,919 L1097.2,916 L1093.9,913 L1090.4,910 L1086.7,906.8 L1082.7,903.4 L1078.4,899.8 L1073.8,895.9 L1069,891.8 L1063.8,887.5 L1058.4,883.3 L1052.8,879 L1046.8,875 L1040.6,871.1 L1033.7,867.2 L1025.7,863.2 L1017.3,859.3 L1008.8,855.5 L1000.6,851.9 L993.2,848.8 L987,846.1 L982.4,844.1 L981,847 L985.6,849.3 L991.7,852.1 L999,855.6 L1007,859.4 L1015.3,863.5 L1023.5,867.7 L1031.1,871.9 L1037.7,875.8 L1043.5,879.8 L1049.1,884 L1054.5,888.3 L1059.6,892.6 L1064.5,896.9 L1069.1,901.2 L1073.5,905.3 L1077.7,909.1 L1081.6,912.6 L1085.2,915.9 L1088.5,919 L1091.5,921.9 L1094.2,924.8 L1096.8,927.6 L1099.1,930.4 L1101.2,933.4 L1103,936.5 L1104.8,940 L1106.3,943.7 L1107.7,947.4 L1108.9,951 L1110,954.3 L1110.9,957.1 L1111.7,959.3Z" fill="#5a1512" stroke="#5a1512" stroke-width="0.6" stroke-linejoin="round"/><path d="M1028.6,864.5 L1027.7,862.6 L1026.6,860 L1025.2,857 L1023.7,853.6 L1022.1,850 L1020.6,846.5 L1019.1,843.1 L1017.9,840.1 L1016.8,837.3 L1015.7,834.3 L1014.6,831.3 L1013.6,828.5 L1012.7,825.8 L1011.8,823.4 L1011.1,821.4 L1010.6,819.8 L1008.7,820.4 L1009.1,822 L1009.8,824.1 L1010.5,826.5 L1011.3,829.2 L1012.3,832.1 L1013.2,835.2 L1014.3,838.2 L1015.3,841.1 L1016.4,844.2 L1017.8,847.7 L1019.2,851.3 L1020.6,854.9 L1022,858.3 L1023.3,861.4 L1024.4,864 L1025.2,866Z" fill="#5a1512" stroke="#5a1512" stroke-width="0.6" stroke-linejoin="round"/><path d="M1070.3,894.8 L1070.3,893.5 L1070.3,891.6 L1070.3,889.5 L1070.3,887.1 L1070.3,884.6 L1070.2,882 L1070.1,879.6 L1070,877.5 L1069.8,875.4 L1069.5,873.3 L1069.2,871.2 L1068.8,869.1 L1068.4,867.2 L1068.1,865.5 L1067.8,864.1 L1067.7,863 L1065.6,863.4 L1065.8,864.5 L1066,865.9 L1066.3,867.6 L1066.5,869.5 L1066.8,871.5 L1067.1,873.6 L1067.3,875.7 L1067.4,877.6 L1067.4,879.7 L1067.4,882.1 L1067.4,884.6 L1067.3,887 L1067.2,889.4 L1067.2,891.6 L1067.1,893.4 L1067.1,894.8Z" fill="#5a1512" stroke="#5a1512" stroke-width="0.6" stroke-linejoin="round"/><path d="M1098.1,929.2 L1096.6,927.9 L1094.7,926.2 L1092.4,924.2 L1089.8,921.9 L1086.9,919.6 L1083.8,917.2 L1080.5,914.9 L1077.1,912.8 L1073.5,910.8 L1069.8,908.8 L1065.8,906.9 L1061.6,905 L1057.2,903.2 L1052.8,901.5 L1048.3,899.9 L1043.7,898.5 L1038.8,897.4 L1033.3,896.4 L1027.6,895.5 L1021.9,894.7 L1016.5,894.1 L1011.6,893.6 L1007.5,893.1 L1004.5,892.7 L1004.1,895.2 L1007.2,895.6 L1011.3,896.2 L1016.2,896.8 L1021.5,897.5 L1027.2,898.4 L1032.8,899.4 L1038.1,900.5 L1042.8,901.7 L1047.2,903.1 L1051.6,904.7 L1055.9,906.4 L1060.1,908.3 L1064.1,910.3 L1068,912.2 L1071.7,914.2 L1075.1,916.2 L1078.2,918.2 L1081.3,920.5 L1084.2,922.8 L1087,925.2 L1089.5,927.5 L1091.7,929.5 L1093.6,931.3 L1095.1,932.6Z" fill="#5a1512" stroke="#5a1512" stroke-width="0.6" stroke-linejoin="round"/><path d="M1142.7,951.8 L1143.9,949.6 L1145.3,946.8 L1147.1,943.5 L1149,939.8 L1151.1,936 L1153.2,932.1 L1155.4,928.5 L1157.6,925.1 L1159.7,922 L1161.8,918.9 L1163.9,915.9 L1166,913 L1168.4,910.1 L1170.9,907.1 L1173.8,904 L1177,900.7 L1180.6,897.3 L1184.6,893.7 L1188.9,890 L1193.4,886.2 L1198.1,882.5 L1202.9,878.7 L1207.9,875.1 L1212.9,871.6 L1218.4,868.1 L1224.5,864.4 L1231.1,860.7 L1237.7,857.1 L1244,853.7 L1249.7,850.7 L1254.6,848.1 L1258.1,846.2 L1256.6,843.3 L1253,845.1 L1248.1,847.4 L1242.2,850.2 L1235.8,853.4 L1229,856.7 L1222.2,860.2 L1215.8,863.7 L1210,867.1 L1204.7,870.4 L1199.5,873.9 L1194.4,877.5 L1189.4,881.2 L1184.7,884.8 L1180.2,888.5 L1175.9,892 L1172,895.4 L1168.5,898.7 L1165.3,901.9 L1162.4,905 L1159.8,908 L1157.4,911 L1155.1,914 L1152.8,917.1 L1150.5,920.2 L1148,923.7 L1145.6,927.5 L1143.2,931.4 L1140.9,935.3 L1138.8,938.9 L1136.9,942.2 L1135.3,944.9 L1134.1,946.9Z" fill="#5a1512" stroke="#5a1512" stroke-width="0.6" stroke-linejoin="round"/><path d="M1212.2,871.5 L1213.2,869.9 L1214.5,867.7 L1216.1,865.1 L1217.9,862.1 L1219.8,859 L1221.6,855.8 L1223.4,852.6 L1225,849.5 L1226.6,846.4 L1228.2,842.9 L1229.8,839.3 L1231.4,835.7 L1232.9,832.3 L1234.2,829.2 L1235.3,826.6 L1236.2,824.7 L1234.3,823.8 L1233.4,825.7 L1232.2,828.3 L1230.8,831.3 L1229.2,834.7 L1227.5,838.2 L1225.8,841.7 L1224.1,845.1 L1222.5,848.2 L1220.8,851.1 L1218.9,854.2 L1217,857.3 L1215,860.4 L1213.2,863.2 L1211.5,865.8 L1210.1,868 L1209.1,869.6Z" fill="#5a1512" stroke="#5a1512" stroke-width="0.6" stroke-linejoin="round"/><path d="M1152.4,928.4 L1153.8,928 L1155.6,927.5 L1157.7,926.9 L1160.1,926.3 L1162.7,925.6 L1165.4,925 L1168,924.4 L1170.6,924 L1173.3,923.7 L1176.4,923.5 L1179.6,923.3 L1182.9,923.2 L1186,923.1 L1188.8,923 L1191.2,922.9 L1193,922.9 L1193,920.8 L1191.2,920.8 L1188.8,920.8 L1186,920.8 L1182.8,920.8 L1179.5,920.9 L1176.2,920.9 L1173.1,921.1 L1170.3,921.3 L1167.6,921.7 L1164.8,922.2 L1162.1,922.7 L1159.4,923.3 L1157,923.9 L1154.8,924.4 L1153,924.9 L1151.6,925.2Z" fill="#5a1512" stroke="#5a1512" stroke-width="0.6" stroke-linejoin="round"/><path d="M1117.6,1068.9 L1116.2,1067.5 L1114.5,1065.7 L1112.4,1063.5 L1110.1,1061.1 L1107.6,1058.5 L1105,1055.9 L1102.4,1053.2 L1099.9,1050.7 L1097.7,1048.4 L1095.6,1046.3 L1093.5,1044.1 L1091.3,1041.8 L1088.8,1039.3 L1086,1036.7 L1082.7,1033.7 L1078.8,1030.4 L1074.4,1026.6 L1069.6,1022.3 L1064.3,1017.6 L1058.6,1012.7 L1052.5,1007.7 L1046.1,1002.8 L1039.4,998.2 L1032.4,993.9 L1024.7,990 L1015.9,986.1 L1006.6,982.3 L997.2,978.8 L988.1,975.5 L979.9,972.6 L973,970.2 L968,968.3 L966.8,971.4 L971.8,973.5 L978.6,976.2 L986.6,979.4 L995.5,983 L1004.7,986.8 L1013.8,990.9 L1022.2,995 L1029.5,999.1 L1035.9,1003.3 L1042.1,1008 L1048.1,1013 L1053.9,1018 L1059.3,1023.1 L1064.3,1027.9 L1069.1,1032.5 L1073.3,1036.5 L1077,1039.9 L1080.1,1042.8 L1082.6,1045.5 L1084.9,1047.9 L1086.9,1050.2 L1088.9,1052.4 L1091,1054.7 L1093.2,1057.1 L1095.6,1059.7 L1098,1062.4 L1100.5,1065.1 L1102.9,1067.8 L1105.1,1070.3 L1107.1,1072.5 L1108.8,1074.4 L1110.1,1075.9Z" fill="#5a1512" stroke="#5a1512" stroke-width="0.6" stroke-linejoin="round"/><path d="M997.4,980 L996.6,978.8 L995.5,977.3 L994.2,975.4 L992.7,973.4 L991.2,971.2 L989.7,969.1 L988.2,967 L986.9,965 L985.7,963.2 L984.5,961.1 L983.3,959.1 L982.1,957.1 L981,955.1 L980,953.4 L979.2,952 L978.5,950.9 L976.7,951.9 L977.3,953 L978.1,954.5 L979,956.2 L980.1,958.2 L981.2,960.3 L982.4,962.4 L983.6,964.5 L984.7,966.4 L985.9,968.4 L987.3,970.6 L988.8,972.9 L990.2,975.1 L991.6,977.2 L992.9,979.1 L994,980.7 L994.7,981.9Z" fill="#5a1512" stroke="#5a1512" stroke-width="0.6" stroke-linejoin="round"/><path d="M1037.6,1000 L1037,998.4 L1036.2,996.3 L1035.3,993.7 L1034.2,990.9 L1033.1,987.9 L1032,985 L1031.1,982.2 L1030.2,979.7 L1029.5,977.3 L1028.8,974.9 L1028.2,972.4 L1027.6,969.9 L1027,967.7 L1026.5,965.7 L1026.1,964 L1025.8,962.6 L1023.8,963.1 L1024.1,964.4 L1024.4,966.1 L1024.8,968.2 L1025.3,970.5 L1025.8,972.9 L1026.3,975.5 L1026.9,978 L1027.6,980.5 L1028.3,983.1 L1029.2,986 L1030.1,989 L1031.1,992 L1032,994.8 L1032.9,997.4 L1033.6,999.6 L1034.1,1001.2Z" fill="#5a1512" stroke="#5a1512" stroke-width="0.6" stroke-linejoin="round"/><path d="M1031.7,997.3 L1029.8,997.4 L1027.2,997.4 L1024.1,997.5 L1020.7,997.6 L1017,997.7 L1013.3,997.9 L1009.7,998.1 L1006.2,998.5 L1002.7,999 L998.9,999.6 L995,1000.4 L991.2,1001.2 L987.6,1002 L984.3,1002.7 L981.5,1003.3 L979.5,1003.7 L979.9,1005.7 L982,1005.3 L984.7,1004.8 L988,1004.1 L991.6,1003.4 L995.5,1002.7 L999.4,1002.1 L1003.1,1001.5 L1006.5,1001.1 L1009.9,1000.9 L1013.4,1000.7 L1017.1,1000.6 L1020.7,1000.6 L1024.2,1000.6 L1027.2,1000.6 L1029.8,1000.6 L1031.8,1000.6Z" fill="#5a1512" stroke="#5a1512" stroke-width="0.6" stroke-linejoin="round"/><path d="M1117.5,1024.4 L1116.6,1022.8 L1115.5,1020.7 L1114.1,1018.1 L1112.6,1015.3 L1110.9,1012.3 L1109.2,1009.4 L1107.6,1006.5 L1106,1004 L1104.4,1001.5 L1102.6,999 L1100.7,996.5 L1098.9,994.1 L1097.2,991.9 L1095.6,989.8 L1094.3,988.2 L1093.3,986.9 L1091.7,988.1 L1092.6,989.4 L1093.8,991.2 L1095.3,993.2 L1097,995.5 L1098.7,998 L1100.4,1000.5 L1102.1,1003 L1103.6,1005.5 L1105,1008 L1106.6,1010.8 L1108.1,1013.8 L1109.6,1016.8 L1111.1,1019.7 L1112.3,1022.3 L1113.4,1024.5 L1114.2,1026.1Z" fill="#5a1512" stroke="#5a1512" stroke-width="0.6" stroke-linejoin="round"/><path d="M1144.3,1055.8 L1145.9,1054.3 L1148,1052.3 L1150.6,1050 L1153.5,1047.4 L1156.5,1044.6 L1159.5,1041.9 L1162.4,1039.3 L1165.1,1036.9 L1167.6,1034.8 L1169.8,1032.8 L1172,1030.9 L1174.2,1029.1 L1176.5,1027.1 L1179,1025.1 L1181.9,1022.8 L1185.2,1020.2 L1188.8,1017.2 L1192.6,1014 L1196.6,1010.5 L1200.8,1007 L1205.3,1003.4 L1210.1,999.9 L1215.4,996.4 L1221,993 L1227.8,989.6 L1235.8,986 L1244.5,982.2 L1253.5,978.5 L1262.3,975 L1270.2,971.9 L1276.9,969.3 L1281.8,967.3 L1280.6,964.2 L1275.6,966 L1268.9,968.3 L1260.8,971.1 L1251.9,974.3 L1242.7,977.6 L1233.7,981 L1225.4,984.4 L1218.3,987.7 L1212.1,990.9 L1206.5,994.4 L1201.2,997.9 L1196.4,1001.4 L1192,1004.8 L1187.8,1008.1 L1184,1011.1 L1180.3,1013.9 L1176.9,1016.3 L1173.9,1018.5 L1171.2,1020.5 L1168.8,1022.4 L1166.5,1024.2 L1164.2,1026 L1161.8,1027.9 L1159.3,1030 L1156.5,1032.2 L1153.4,1034.8 L1150.2,1037.4 L1147.1,1040 L1144.1,1042.5 L1141.4,1044.7 L1139.2,1046.6 L1137.5,1048Z" fill="#5a1512" stroke="#5a1512" stroke-width="0.6" stroke-linejoin="round"/><path d="M1220.5,992.4 L1221.2,990.8 L1222.1,988.7 L1223.2,986.3 L1224.4,983.5 L1225.7,980.6 L1227,977.7 L1228.1,975 L1229.1,972.4 L1230.1,970 L1230.9,967.5 L1231.8,964.9 L1232.6,962.4 L1233.3,960.1 L1234,958.1 L1234.5,956.3 L1235,955 L1233,954.3 L1232.6,955.6 L1231.9,957.4 L1231.2,959.4 L1230.4,961.7 L1229.5,964.1 L1228.5,966.6 L1227.5,969 L1226.6,971.4 L1225.5,973.8 L1224.2,976.5 L1222.8,979.3 L1221.5,982.1 L1220.1,984.8 L1218.9,987.2 L1217.9,989.3 L1217.2,990.8Z" fill="#5a1512" stroke="#5a1512" stroke-width="0.6" stroke-linejoin="round"/><path d="M1190.6,1013.5 L1193.1,1014 L1196.5,1014.7 L1200.6,1015.5 L1205.1,1016.4 L1209.8,1017.3 L1214.7,1018.2 L1219.3,1018.8 L1223.6,1019.3 L1227.9,1019.4 L1232.3,1019.4 L1236.8,1019.3 L1241.2,1019 L1245.4,1018.7 L1249.1,1018.4 L1252.2,1018.2 L1254.6,1018 L1254.5,1016 L1252.1,1016.1 L1249,1016.2 L1245.2,1016.4 L1241.1,1016.6 L1236.7,1016.8 L1232.3,1016.8 L1227.9,1016.7 L1223.9,1016.4 L1219.7,1015.9 L1215.2,1015.1 L1210.5,1014.2 L1205.8,1013.2 L1201.3,1012.2 L1197.3,1011.2 L1193.9,1010.4 L1191.3,1009.9Z" fill="#5a1512" stroke="#5a1512" stroke-width="0.6" stroke-linejoin="round"/><path d="M1115.9,1150.6 L1114.4,1149.2 L1112.4,1147.4 L1110.1,1145.1 L1107.4,1142.6 L1104.5,1139.9 L1101.5,1137.2 L1098.5,1134.6 L1095.5,1132.3 L1092.6,1130.1 L1089.8,1128.1 L1087,1126.1 L1084,1124.1 L1080.9,1122.1 L1077.5,1120.1 L1073.8,1118 L1069.8,1116 L1065.6,1113.8 L1061.1,1111.4 L1056.3,1108.9 L1051.2,1106.5 L1045.7,1104.1 L1040,1101.8 L1034,1099.8 L1027.6,1098.1 L1020.4,1096.7 L1012.3,1095.6 L1003.6,1094.7 L994.8,1094 L986.3,1093.5 L978.7,1093 L972.3,1092.7 L967.6,1092.3 L967.2,1096 L971.9,1096.5 L978.3,1097.2 L985.9,1098 L994.3,1098.9 L1003,1100 L1011.5,1101.2 L1019.4,1102.6 L1026.1,1104.2 L1032,1106 L1037.6,1108.1 L1042.9,1110.5 L1047.9,1113 L1052.7,1115.6 L1057.3,1118.3 L1061.7,1120.8 L1065.9,1123.2 L1069.7,1125.4 L1073.1,1127.4 L1076.1,1129.5 L1079,1131.5 L1081.7,1133.4 L1084.3,1135.5 L1086.9,1137.5 L1089.5,1139.7 L1092.2,1142 L1094.9,1144.5 L1097.7,1147.2 L1100.3,1149.9 L1102.8,1152.4 L1105.1,1154.8 L1107,1156.8 L1108.5,1158.3Z" fill="#5a1512" stroke="#5a1512" stroke-width="0.6" stroke-linejoin="round"/><path d="M1028.2,1098.6 L1026.6,1097 L1024.5,1094.8 L1021.9,1092.2 L1019.1,1089.3 L1016.2,1086.3 L1013.1,1083.2 L1010.1,1080.2 L1007.3,1077.5 L1004.5,1074.9 L1001.5,1072.1 L998.3,1069.3 L995.2,1066.5 L992.3,1063.9 L989.6,1061.5 L987.4,1059.6 L985.7,1058.1 L984.3,1059.6 L986,1061.2 L988.1,1063.2 L990.7,1065.6 L993.6,1068.3 L996.6,1071.1 L999.7,1074 L1002.6,1076.9 L1005.3,1079.6 L1008,1082.3 L1010.9,1085.3 L1013.8,1088.5 L1016.7,1091.6 L1019.4,1094.6 L1021.9,1097.2 L1024,1099.5 L1025.5,1101.2Z" fill="#5a1512" stroke="#5a1512" stroke-width="0.6" stroke-linejoin="round"/><path d="M1070.4,1119.7 L1069.5,1117.7 L1068.4,1115 L1067,1111.8 L1065.4,1108.2 L1063.8,1104.5 L1062.1,1100.8 L1060.4,1097.4 L1058.8,1094.3 L1057.2,1091.5 L1055.4,1088.7 L1053.6,1086 L1051.7,1083.5 L1050,1081.1 L1048.4,1079 L1047.1,1077.3 L1046.2,1075.9 L1044.5,1077.1 L1045.4,1078.5 L1046.7,1080.3 L1048.2,1082.4 L1049.8,1084.8 L1051.5,1087.4 L1053.3,1090.1 L1054.9,1092.9 L1056.4,1095.6 L1057.8,1098.6 L1059.4,1102 L1060.9,1105.7 L1062.4,1109.5 L1063.8,1113.1 L1065.1,1116.3 L1066.2,1119.1 L1067,1121.1Z" fill="#5a1512" stroke="#5a1512" stroke-width="0.6" stroke-linejoin="round"/><path d="M1147.3,1151.5 L1148.7,1150.2 L1150.5,1148.5 L1152.7,1146.5 L1155,1144.3 L1157.6,1142 L1160.1,1139.7 L1162.6,1137.6 L1165,1135.7 L1167.3,1134 L1169.3,1132.4 L1171.1,1131 L1173,1129.7 L1175.1,1128.3 L1177.6,1126.9 L1180.6,1125.2 L1184.4,1123.4 L1189.1,1121.2 L1194.7,1118.7 L1200.8,1116 L1207.2,1113.2 L1213.9,1110.5 L1220.4,1108 L1226.8,1105.7 L1232.7,1103.9 L1238.4,1102.5 L1244.5,1101.4 L1250.7,1100.5 L1256.8,1099.8 L1262.4,1099.2 L1267.6,1098.8 L1271.9,1098.4 L1275.2,1098 L1274.9,1094.4 L1271.6,1094.6 L1267.3,1094.7 L1262.1,1094.9 L1256.4,1095.2 L1250.2,1095.6 L1243.8,1096.2 L1237.4,1097.1 L1231.3,1098.3 L1225,1099.9 L1218.4,1101.9 L1211.5,1104.1 L1204.6,1106.6 L1197.9,1109 L1191.7,1111.5 L1185.9,1113.8 L1181,1115.8 L1176.9,1117.5 L1173.5,1119.1 L1170.6,1120.7 L1168.1,1122.1 L1165.9,1123.6 L1163.8,1125 L1161.7,1126.5 L1159.4,1128.1 L1156.7,1130 L1153.9,1132.1 L1151.1,1134.4 L1148.4,1136.6 L1145.8,1138.8 L1143.6,1140.7 L1141.7,1142.3 L1140.3,1143.4Z" fill="#5a1512" stroke="#5a1512" stroke-width="0.6" stroke-linejoin="round"/><path d="M1187.6,1118.9 L1188.4,1117.4 L1189.6,1115.4 L1190.9,1113 L1192.4,1110.4 L1193.9,1107.7 L1195.5,1104.9 L1197,1102.2 L1198.3,1099.8 L1199.6,1097.4 L1200.9,1094.9 L1202.3,1092.3 L1203.5,1089.8 L1204.7,1087.5 L1205.8,1085.4 L1206.7,1083.7 L1207.4,1082.3 L1205.6,1081.3 L1204.9,1082.6 L1203.9,1084.4 L1202.7,1086.4 L1201.4,1088.7 L1200.1,1091.1 L1198.6,1093.6 L1197.2,1096 L1195.9,1098.4 L1194.4,1100.7 L1192.9,1103.3 L1191.2,1106 L1189.5,1108.7 L1187.9,1111.3 L1186.5,1113.6 L1185.3,1115.5 L1184.4,1117Z" fill="#5a1512" stroke="#5a1512" stroke-width="0.6" stroke-linejoin="round"/><path d="M1235.3,1102 L1236.4,1100.8 L1237.8,1099.2 L1239.5,1097.3 L1241.3,1095.3 L1243.3,1093.1 L1245.3,1090.9 L1247.4,1088.9 L1249.3,1087 L1251.4,1085.2 L1253.7,1083.4 L1256.1,1081.5 L1258.6,1079.6 L1260.9,1077.9 L1263.1,1076.4 L1264.9,1075 L1266.2,1074.1 L1265,1072.4 L1263.6,1073.3 L1261.8,1074.6 L1259.6,1076 L1257.2,1077.7 L1254.6,1079.4 L1252.1,1081.3 L1249.6,1083.1 L1247.4,1084.8 L1245.3,1086.7 L1243.1,1088.7 L1241,1090.9 L1238.9,1093 L1236.9,1095 L1235.2,1096.8 L1233.8,1098.3 L1232.7,1099.4Z" fill="#5a1512" stroke="#5a1512" stroke-width="0.6" stroke-linejoin="round"/>
<path d="M1047.4,723 C1047.6,721.1 1048.4,718.7 1050,717.2 C1051.6,715.7 1054.3,714.5 1057,714 C1059.7,713.5 1063.3,713.9 1066,714.4 C1068.6,714.8 1070.8,715.6 1073,716.9 C1075.2,718.2 1079.3,720.4 1079.4,722.3 C1079.5,724.1 1076,726.6 1073.6,728 C1071.2,729.5 1068,730.6 1065,731.1 C1062,731.6 1058.1,731.6 1055.4,731.1 C1052.7,730.6 1050.3,729.8 1049,728.4 C1047.7,727 1047.2,724.9 1047.4,723Z" fill="#f6c318" transform="rotate(-30 1063.4 723)"/>
<path d="M1173,709.5 C1173.2,707.6 1174,705.2 1175.6,703.7 C1177.2,702.2 1179.9,701 1182.6,700.5 C1185.3,700 1188.9,700.4 1191.6,700.9 C1194.2,701.3 1196.4,702.1 1198.6,703.4 C1200.8,704.7 1204.9,706.9 1205,708.8 C1205.1,710.6 1201.6,713.1 1199.2,714.5 C1196.8,716 1193.6,717.1 1190.6,717.6 C1187.6,718.1 1183.7,718.1 1181,717.6 C1178.3,717.1 1175.9,716.2 1174.6,714.9 C1173.3,713.5 1172.8,711.4 1173,709.5Z" fill="#86bd42" transform="rotate(35 1189 709.5)"/>
<path d="M998.5,904.5 C998.7,902.6 999.5,900.2 1001.1,898.7 C1002.7,897.2 1005.4,896 1008.1,895.5 C1010.8,895 1014.4,895.4 1017.1,895.9 C1019.7,896.3 1021.9,897.1 1024.1,898.4 C1026.3,899.7 1030.4,901.9 1030.5,903.8 C1030.6,905.6 1027.1,908.1 1024.7,909.5 C1022.3,911 1019.1,912.1 1016.1,912.6 C1013.1,913.1 1009.2,913.1 1006.5,912.6 C1003.8,912.1 1001.4,911.2 1000.1,909.9 C998.8,908.5 998.3,906.4 998.5,904.5Z" fill="#ee8a12" transform="rotate(30 1014.5 904.5)"/>
<path d="M1190,933 C1190.2,931.1 1191,928.7 1192.6,927.2 C1194.2,925.7 1196.9,924.5 1199.6,924 C1202.3,923.5 1205.9,923.9 1208.6,924.4 C1211.2,924.8 1213.4,925.6 1215.6,926.9 C1217.8,928.2 1221.9,930.4 1222,932.3 C1222.1,934.1 1218.6,936.6 1216.2,938 C1213.8,939.5 1210.6,940.6 1207.6,941.1 C1204.6,941.6 1200.7,941.6 1198,941.1 C1195.3,940.6 1192.9,939.8 1191.6,938.4 C1190.3,937 1189.8,934.9 1190,933Z" fill="#86bd42" transform="rotate(35 1206 933)"/>
<path d="M927.4,1024.6 C927.7,1021.5 929.2,1017.5 932.2,1015 C935.2,1012.5 940.4,1010.4 945.4,1009.6 C950.4,1008.8 957.2,1009.4 962.2,1010.2 C967.2,1011 971.2,1012.2 975.4,1014.4 C979.6,1016.6 987.2,1020.3 987.4,1023.4 C987.6,1026.5 981.1,1030.5 976.6,1033 C972.1,1035.5 966.1,1037.2 960.4,1038.1 C954.7,1038.9 947.4,1038.8 942.4,1038.1 C937.4,1037.3 932.9,1035.8 930.4,1033.6 C927.9,1031.3 927.1,1027.7 927.4,1024.6Z" fill="#f6c318" transform="rotate(-35 957.4 1024.6)"/>
<path d="M1200,1036.4 C1200.3,1033.3 1201.8,1029.3 1204.8,1026.8 C1207.8,1024.3 1213,1022.2 1218,1021.4 C1223,1020.6 1229.8,1021.2 1234.8,1022 C1239.8,1022.8 1243.8,1024 1248,1026.2 C1252.2,1028.4 1259.8,1032.1 1260,1035.2 C1260.2,1038.3 1253.7,1042.4 1249.2,1044.8 C1244.7,1047.3 1238.7,1049.1 1233,1049.9 C1227.3,1050.8 1220,1050.7 1215,1049.9 C1210,1049.2 1205.5,1047.7 1203,1045.4 C1200.5,1043.2 1199.7,1039.5 1200,1036.4Z" fill="#f6c318" transform="rotate(-35 1230 1036.4)"/>
<path d="M912.6,1105.6 C912.9,1102.5 914.4,1098.5 917.4,1096 C920.4,1093.5 925.6,1091.4 930.6,1090.6 C935.6,1089.8 942.4,1090.4 947.4,1091.2 C952.4,1092 956.4,1093.2 960.6,1095.4 C964.8,1097.6 972.4,1101.3 972.6,1104.4 C972.8,1107.5 966.3,1111.5 961.8,1114 C957.3,1116.5 951.3,1118.2 945.6,1119.1 C939.9,1119.9 932.6,1119.8 927.6,1119.1 C922.6,1118.3 918.1,1116.8 915.6,1114.6 C913.1,1112.3 912.3,1108.7 912.6,1105.6Z" fill="#f6c318" transform="rotate(-30 942.6 1105.6)"/>
<path d="M1263.6,1106.7 C1263.8,1104.6 1264.6,1102 1266.3,1100.3 C1268,1098.6 1271,1097.2 1273.8,1096.7 C1276.6,1096.2 1280.5,1096.6 1283.3,1097.1 C1286.2,1097.6 1288.4,1098.4 1290.8,1099.9 C1293.2,1101.4 1297.5,1103.8 1297.6,1105.9 C1297.7,1108 1294,1110.7 1291.5,1112.3 C1288.9,1113.9 1285.5,1115.1 1282.3,1115.7 C1279.1,1116.3 1274.9,1116.2 1272.1,1115.7 C1269.3,1115.2 1266.7,1114.2 1265.3,1112.7 C1263.9,1111.2 1263.4,1108.8 1263.6,1106.7Z" fill="#ee8a12" transform="rotate(30 1280.6 1106.7)"/>
<path d="M959.5,1306 C959.8,1303.2 961.1,1299.6 963.9,1297.4 C966.6,1295.1 971.4,1293.2 976,1292.5 C980.6,1291.8 986.8,1292.3 991.4,1293 C996,1293.8 999.6,1294.8 1003.5,1296.8 C1007.4,1298.8 1014.3,1302.1 1014.5,1304.9 C1014.7,1307.7 1008.7,1311.4 1004.6,1313.6 C1000.5,1315.8 995,1317.4 989.8,1318.2 C984.5,1318.9 977.8,1318.8 973.2,1318.2 C968.7,1317.5 964.5,1316.1 962.2,1314.1 C960,1312.1 959.2,1308.8 959.5,1306Z" fill="#ee8a12" transform="rotate(-15 987 1306)"/>
<path d="M1026.5,1285.5 C1026.8,1282.7 1028.2,1279.1 1030.9,1276.9 C1033.7,1274.6 1038.4,1272.7 1043,1272 C1047.6,1271.3 1053.8,1271.8 1058.4,1272.5 C1063,1273.3 1066.7,1274.3 1070.5,1276.3 C1074.3,1278.3 1081.3,1281.6 1081.5,1284.4 C1081.7,1287.2 1075.7,1290.9 1071.6,1293.1 C1067.5,1295.3 1062,1296.9 1056.8,1297.7 C1051.5,1298.4 1044.8,1298.3 1040.2,1297.7 C1035.7,1297 1031.5,1295.6 1029.2,1293.6 C1027,1291.6 1026.2,1288.3 1026.5,1285.5Z" fill="#86bd42" transform="rotate(-15 1054 1285.5)"/>
<path d="M1077,1256 C1077.3,1253.1 1078.7,1249.4 1081.4,1247 C1084.2,1244.7 1088.9,1242.7 1093.5,1242 C1098.1,1241.3 1104.3,1241.8 1108.9,1242.6 C1113.5,1243.3 1117.2,1244.4 1121,1246.5 C1124.8,1248.5 1131.8,1252 1132,1254.9 C1132.2,1257.8 1126.2,1261.6 1122.1,1263.8 C1118,1266.1 1112.5,1267.8 1107.2,1268.6 C1102,1269.4 1095.3,1269.3 1090.8,1268.6 C1086.2,1267.9 1082,1266.5 1079.8,1264.4 C1077.5,1262.3 1076.7,1258.9 1077,1256Z" fill="#ee8a12" transform="rotate(15 1104.5 1256)"/>
<path d="M1128,1267 C1128.2,1264.7 1129.3,1261.8 1131.4,1260 C1133.5,1258.1 1137.1,1256.6 1140.6,1256 C1144.1,1255.4 1148.9,1255.9 1152.4,1256.4 C1155.9,1257 1158.7,1257.9 1161.6,1259.5 C1164.5,1261.1 1169.9,1263.8 1170,1266.1 C1170.1,1268.4 1165.6,1271.4 1162.4,1273.2 C1159.3,1275 1155.1,1276.3 1151.1,1276.9 C1147.1,1277.5 1142,1277.5 1138.5,1276.9 C1135,1276.4 1131.8,1275.2 1130.1,1273.6 C1128.3,1271.9 1127.8,1269.3 1128,1267Z" fill="#f6c318" transform="rotate(-10 1149 1267)"/>
<path d="M1170,1267 C1170.2,1265.3 1171,1263.2 1172.6,1261.9 C1174.2,1260.5 1176.9,1259.4 1179.6,1259 C1182.3,1258.6 1185.9,1258.9 1188.6,1259.3 C1191.2,1259.7 1193.4,1260.4 1195.6,1261.6 C1197.8,1262.7 1201.9,1264.7 1202,1266.4 C1202.1,1268 1198.6,1270.2 1196.2,1271.5 C1193.8,1272.8 1190.6,1273.7 1187.6,1274.2 C1184.6,1274.7 1180.7,1274.6 1178,1274.2 C1175.3,1273.8 1172.9,1273 1171.6,1271.8 C1170.3,1270.6 1169.8,1268.7 1170,1267Z" fill="#86bd42" transform="rotate(15 1186 1267)"/>
<path d="M1180.5,1275 C1180.8,1272.3 1182,1268.8 1184.5,1266.7 C1187,1264.5 1191.3,1262.7 1195.5,1262 C1199.7,1261.3 1205.3,1261.8 1209.5,1262.5 C1213.7,1263.2 1217,1264.3 1220.5,1266.2 C1224,1268.1 1230.3,1271.3 1230.5,1274 C1230.7,1276.6 1225.2,1280.2 1221.5,1282.3 C1217.8,1284.4 1212.8,1286 1208,1286.7 C1203.2,1287.4 1197.2,1287.4 1193,1286.7 C1188.8,1286 1185.1,1284.8 1183,1282.8 C1180.9,1280.8 1180.2,1277.7 1180.5,1275Z" fill="#f6c318" transform="rotate(-15 1205.5 1275)"/>
<path d="M1235.5,1285 C1235.8,1282.1 1237.2,1278.4 1239.9,1276 C1242.7,1273.7 1247.4,1271.7 1252,1271 C1256.6,1270.3 1262.8,1270.8 1267.4,1271.6 C1272,1272.3 1275.7,1273.4 1279.5,1275.5 C1283.3,1277.5 1290.3,1281 1290.5,1283.9 C1290.7,1286.8 1284.7,1290.6 1280.6,1292.8 C1276.5,1295.1 1271,1296.8 1265.8,1297.6 C1260.5,1298.4 1253.8,1298.3 1249.2,1297.6 C1244.7,1296.9 1240.5,1295.5 1238.2,1293.4 C1236,1291.3 1235.2,1287.9 1235.5,1285Z" fill="#ee8a12" transform="rotate(-20 1263 1285)"/>
<path d="M1067,1296 C1067.2,1293.3 1068.5,1289.8 1071,1287.7 C1073.5,1285.5 1077.8,1283.7 1082,1283 C1086.2,1282.3 1091.8,1282.8 1096,1283.5 C1100.2,1284.2 1103.5,1285.3 1107,1287.2 C1110.5,1289.1 1116.8,1292.3 1117,1295 C1117.2,1297.6 1111.8,1301.2 1108,1303.3 C1104.2,1305.4 1099.2,1307 1094.5,1307.7 C1089.8,1308.4 1083.7,1308.4 1079.5,1307.7 C1075.3,1307 1071.6,1305.8 1069.5,1303.8 C1067.4,1301.8 1066.8,1298.7 1067,1296Z" fill="#f6c318" transform="rotate(-10 1092 1296)"/>
<path d="M1127.5,1291.5 C1127.8,1288.6 1129.2,1284.9 1131.9,1282.5 C1134.7,1280.2 1139.4,1278.2 1144,1277.5 C1148.6,1276.8 1154.8,1277.3 1159.4,1278.1 C1164,1278.8 1167.7,1279.9 1171.5,1282 C1175.3,1284 1182.3,1287.5 1182.5,1290.4 C1182.7,1293.3 1176.7,1297.1 1172.6,1299.3 C1168.5,1301.6 1163,1303.3 1157.8,1304.1 C1152.5,1304.9 1145.8,1304.8 1141.2,1304.1 C1136.7,1303.4 1132.5,1302 1130.2,1299.9 C1128,1297.8 1127.2,1294.4 1127.5,1291.5Z" fill="#86bd42" transform="rotate(20 1155 1291.5)"/>
<path d="M1211,1306 C1211.2,1303.3 1212.5,1299.8 1215,1297.7 C1217.5,1295.5 1221.8,1293.7 1226,1293 C1230.2,1292.3 1235.8,1292.8 1240,1293.5 C1244.2,1294.2 1247.5,1295.3 1251,1297.2 C1254.5,1299.1 1260.8,1302.3 1261,1305 C1261.2,1307.6 1255.8,1311.2 1252,1313.3 C1248.2,1315.4 1243.2,1317 1238.5,1317.7 C1233.8,1318.4 1227.7,1318.4 1223.5,1317.7 C1219.3,1317 1215.6,1315.8 1213.5,1313.8 C1211.4,1311.8 1210.8,1308.7 1211,1306Z" fill="#f6c318" transform="rotate(15 1236 1306)"/>
<path d="M1001.6,1323 C1001.9,1320.3 1003.2,1316.8 1005.8,1314.7 C1008.4,1312.5 1012.9,1310.7 1017.2,1310 C1021.5,1309.3 1027.4,1309.8 1031.8,1310.5 C1036.1,1311.2 1039.6,1312.3 1043.2,1314.2 C1046.8,1316.1 1053.4,1319.3 1053.6,1322 C1053.8,1324.6 1048.1,1328.2 1044.2,1330.3 C1040.3,1332.4 1035.1,1334 1030.2,1334.7 C1025.3,1335.4 1018.9,1335.4 1014.6,1334.7 C1010.3,1334 1006.4,1332.8 1004.2,1330.8 C1002,1328.8 1001.3,1325.7 1001.6,1323Z" fill="#f6c318" transform="rotate(-10 1027.6 1323)"/>
<path d="M1071,1327 C1071.3,1324.3 1072.6,1320.8 1075.2,1318.7 C1077.8,1316.5 1082.3,1314.7 1086.6,1314 C1090.9,1313.3 1096.8,1313.8 1101.2,1314.5 C1105.5,1315.2 1109,1316.3 1112.6,1318.2 C1116.2,1320.1 1122.8,1323.3 1123,1326 C1123.2,1328.6 1117.5,1332.2 1113.6,1334.3 C1109.7,1336.4 1104.5,1338 1099.6,1338.7 C1094.7,1339.4 1088.3,1339.4 1084,1338.7 C1079.7,1338 1075.8,1336.8 1073.6,1334.8 C1071.4,1332.8 1070.7,1329.7 1071,1327Z" fill="#ee8a12" transform="rotate(15 1097 1327)"/>
<path d="M1089,1303 C1089.2,1301.5 1089.9,1299.5 1091.4,1298.2 C1092.9,1297 1095.5,1295.9 1098,1295.5 C1100.5,1295.1 1103.9,1295.4 1106.4,1295.8 C1108.9,1296.2 1110.9,1296.8 1113,1297.9 C1115.1,1299 1118.9,1300.9 1119,1302.4 C1119.1,1304 1115.8,1306 1113.6,1307.2 C1111.3,1308.4 1108.3,1309.3 1105.5,1309.8 C1102.7,1310.2 1099,1310.1 1096.5,1309.8 C1094,1309.4 1091.8,1308.6 1090.5,1307.5 C1089.2,1306.4 1088.8,1304.5 1089,1303Z" fill="#86bd42" transform="rotate(10 1104 1303)"/>
<path d="M1107.5,1327 C1107.6,1325.6 1108.3,1323.7 1109.6,1322.5 C1110.9,1321.4 1113.1,1320.4 1115.3,1320 C1117.5,1319.6 1120.4,1319.9 1122.6,1320.3 C1124.7,1320.7 1126.5,1321.2 1128.3,1322.2 C1130.1,1323.3 1133.4,1325 1133.5,1326.4 C1133.6,1327.9 1130.8,1329.8 1128.8,1330.9 C1126.9,1332.1 1124.3,1332.9 1121.8,1333.3 C1119.3,1333.7 1116.2,1333.6 1114,1333.3 C1111.8,1333 1109.9,1332.2 1108.8,1331.2 C1107.7,1330.2 1107.4,1328.4 1107.5,1327Z" fill="#f6c318" transform="rotate(-10 1120.5 1327)"/>
<path d="M1143,1323 C1143.3,1320.3 1144.6,1316.8 1147.2,1314.7 C1149.8,1312.5 1154.3,1310.7 1158.6,1310 C1162.9,1309.3 1168.8,1309.8 1173.2,1310.5 C1177.5,1311.2 1181,1312.3 1184.6,1314.2 C1188.2,1316.1 1194.8,1319.3 1195,1322 C1195.2,1324.6 1189.5,1328.2 1185.6,1330.3 C1181.7,1332.4 1176.5,1334 1171.6,1334.7 C1166.7,1335.4 1160.3,1335.4 1156,1334.7 C1151.7,1334 1147.8,1332.8 1145.6,1330.8 C1143.4,1328.8 1142.7,1325.7 1143,1323Z" fill="#f6c318" transform="rotate(-15 1169 1323)"/>
<path d="M1194.5,1320 C1194.8,1317.1 1196.2,1313.4 1198.9,1311 C1201.7,1308.7 1206.4,1306.7 1211,1306 C1215.6,1305.3 1221.8,1305.8 1226.4,1306.6 C1231,1307.3 1234.7,1308.4 1238.5,1310.5 C1242.3,1312.5 1249.3,1316 1249.5,1318.9 C1249.7,1321.8 1243.7,1325.6 1239.6,1327.8 C1235.5,1330.1 1230,1331.8 1224.8,1332.6 C1219.5,1333.4 1212.8,1333.3 1208.2,1332.6 C1203.7,1331.9 1199.5,1330.5 1197.2,1328.4 C1195,1326.3 1194.2,1322.9 1194.5,1320Z" fill="#ee8a12" transform="rotate(20 1222 1320)"/>
<path d="M1804.1,1456.8 L1803.8,1485.9 L1802.2,1516.5 L1799.2,1531.8 L1798.6,1593.1 L1796.7,1669.6 L1794.6,1746.1 L1793.1,1822.6 L1792.1,1908.4 L1820.6,1908.4 L1819.1,1822.6 L1817.5,1746.1 L1815.1,1669.6 L1813,1593.1 L1812,1531.8 L1808.4,1516.5 L1806.8,1485.9 L1806.5,1456.8Z" fill="#5a1512"/><path d="M1803,1523.4 L1802.5,1522.2 L1801.9,1520.7 L1801.2,1518.7 L1800.3,1516.6 L1799.4,1514.3 L1798.3,1512.1 L1797.2,1509.9 L1796.1,1508 L1794.9,1506.2 L1793.6,1504.5 L1792.2,1502.8 L1790.8,1501.2 L1789.4,1499.6 L1787.8,1498.2 L1786.3,1496.8 L1784.6,1495.6 L1782.8,1494.5 L1780.9,1493.5 L1778.8,1492.6 L1776.7,1491.8 L1774.7,1491.1 L1773,1490.5 L1771.5,1490.1 L1770.4,1489.7 L1769.8,1491.4 L1770.9,1491.8 L1772.3,1492.4 L1774,1493.1 L1775.9,1493.8 L1777.9,1494.7 L1779.8,1495.6 L1781.6,1496.6 L1783.1,1497.7 L1784.5,1498.9 L1785.9,1500.2 L1787.2,1501.6 L1788.5,1503.2 L1789.8,1504.8 L1791,1506.4 L1792.1,1508.1 L1793.1,1509.8 L1794.1,1511.6 L1795,1513.6 L1795.8,1515.8 L1796.6,1518 L1797.4,1520.1 L1798,1522.1 L1798.6,1523.7 L1799,1525Z" fill="#5a1512" stroke="#5a1512" stroke-width="0.6" stroke-linejoin="round"/><path d="M1791.2,1502.4 L1790.9,1501.4 L1790.4,1499.9 L1789.9,1498.2 L1789.4,1496.2 L1788.8,1494.2 L1788.2,1492.3 L1787.7,1490.4 L1787.3,1488.7 L1786.9,1487.2 L1786.5,1485.6 L1786.1,1484.1 L1785.7,1482.6 L1785.4,1481.2 L1785.1,1479.9 L1784.8,1478.9 L1784.6,1478.1 L1783.1,1478.4 L1783.3,1479.2 L1783.5,1480.3 L1783.8,1481.5 L1784,1482.9 L1784.4,1484.5 L1784.7,1486 L1785,1487.6 L1785.4,1489.2 L1785.8,1490.9 L1786.2,1492.8 L1786.7,1494.8 L1787.2,1496.8 L1787.7,1498.8 L1788.2,1500.5 L1788.5,1502 L1788.8,1503.1Z" fill="#5a1512" stroke="#5a1512" stroke-width="0.6" stroke-linejoin="round"/><path d="M1811.6,1521.9 L1812,1520.7 L1812.6,1519.1 L1813.2,1517.1 L1814,1515 L1814.8,1512.8 L1815.7,1510.7 L1816.6,1508.6 L1817.5,1506.7 L1818.6,1504.9 L1819.7,1503.2 L1820.8,1501.5 L1822.1,1499.7 L1823.4,1498 L1824.7,1496.4 L1826.2,1494.7 L1827.7,1493 L1829.4,1491.3 L1831.4,1489.4 L1833.6,1487.5 L1835.8,1485.6 L1837.9,1483.9 L1839.8,1482.3 L1841.4,1480.9 L1842.6,1479.9 L1841.5,1478.5 L1840.2,1479.4 L1838.6,1480.7 L1836.6,1482.2 L1834.4,1483.9 L1832.1,1485.7 L1829.8,1487.5 L1827.6,1489.3 L1825.8,1491.1 L1824.1,1492.7 L1822.5,1494.4 L1821,1496.1 L1819.6,1497.8 L1818.2,1499.5 L1816.9,1501.3 L1815.7,1503.1 L1814.5,1504.9 L1813.3,1506.9 L1812.3,1509.1 L1811.2,1511.4 L1810.3,1513.6 L1809.4,1515.7 L1808.7,1517.6 L1808.1,1519.2 L1807.6,1520.3Z" fill="#5a1512" stroke="#5a1512" stroke-width="0.6" stroke-linejoin="round"/><path d="M1823.6,1494.9 L1823.9,1493.8 L1824.4,1492.4 L1824.9,1490.7 L1825.4,1488.8 L1826,1486.9 L1826.6,1485 L1827.2,1483.2 L1827.6,1481.6 L1828.1,1480.2 L1828.5,1478.8 L1828.9,1477.5 L1829.3,1476.2 L1829.7,1475 L1830,1474 L1830.3,1473.1 L1830.5,1472.4 L1829.1,1471.9 L1828.8,1472.6 L1828.5,1473.4 L1828.1,1474.5 L1827.7,1475.6 L1827.3,1476.9 L1826.8,1478.3 L1826.3,1479.6 L1825.8,1481 L1825.3,1482.6 L1824.7,1484.3 L1824,1486.2 L1823.4,1488.1 L1822.7,1490 L1822.1,1491.7 L1821.6,1493.1 L1821.3,1494.1Z" fill="#5a1512" stroke="#5a1512" stroke-width="0.6" stroke-linejoin="round"/><path d="M1801.4,1608.9 L1800.8,1607.1 L1799.9,1604.8 L1798.9,1602.1 L1797.7,1599 L1796.4,1595.7 L1795.1,1592.4 L1793.7,1589.1 L1792.3,1585.9 L1790.9,1582.9 L1789.4,1579.7 L1787.9,1576.4 L1786.3,1573.1 L1784.6,1569.8 L1782.9,1566.7 L1781.1,1563.9 L1779.3,1561.3 L1777.4,1559.1 L1775.5,1557.1 L1773.5,1555.4 L1771.5,1553.9 L1769.5,1552.5 L1767.4,1551.2 L1765.3,1550 L1763.2,1548.9 L1760.8,1547.7 L1758.2,1546.7 L1755.4,1545.7 L1752.7,1544.9 L1750.1,1544.1 L1747.8,1543.5 L1745.9,1542.9 L1744.4,1542.5 L1743.7,1544.5 L1745.2,1545 L1747.1,1545.6 L1749.4,1546.4 L1751.9,1547.3 L1754.5,1548.2 L1757.1,1549.3 L1759.6,1550.4 L1761.7,1551.5 L1763.8,1552.7 L1765.7,1554 L1767.6,1555.2 L1769.5,1556.6 L1771.2,1558.1 L1772.9,1559.7 L1774.6,1561.5 L1776.2,1563.6 L1777.8,1566 L1779.3,1568.8 L1780.8,1571.8 L1782.3,1575 L1783.7,1578.3 L1785.1,1581.6 L1786.4,1584.8 L1787.7,1587.9 L1788.9,1591 L1790.1,1594.3 L1791.3,1597.6 L1792.4,1600.9 L1793.4,1604 L1794.3,1606.8 L1795.1,1609.1 L1795.7,1610.9Z" fill="#5a1512" stroke="#5a1512" stroke-width="0.6" stroke-linejoin="round"/><path d="M1767.3,1553.9 L1767.4,1553.2 L1767.4,1552.1 L1767.4,1550.9 L1767.5,1549.6 L1767.5,1548.2 L1767.6,1546.7 L1767.6,1545.4 L1767.7,1544.2 L1767.8,1543 L1767.9,1541.8 L1768.1,1540.5 L1768.2,1539.3 L1768.4,1538.2 L1768.5,1537.1 L1768.6,1536.3 L1768.7,1535.6 L1767.2,1535.4 L1767.1,1536 L1766.9,1536.9 L1766.7,1537.9 L1766.5,1539.1 L1766.3,1540.3 L1766.1,1541.5 L1765.9,1542.8 L1765.8,1544 L1765.6,1545.2 L1765.5,1546.6 L1765.4,1548 L1765.2,1549.5 L1765.1,1550.8 L1765,1552 L1765,1553 L1764.9,1553.8Z" fill="#5a1512" stroke="#5a1512" stroke-width="0.6" stroke-linejoin="round"/><path d="M1814.7,1602.2 L1815.6,1600.6 L1816.7,1598.5 L1817.9,1596 L1819.4,1593.3 L1820.9,1590.4 L1822.5,1587.5 L1824.2,1584.8 L1825.8,1582.3 L1827.4,1579.9 L1829.1,1577.5 L1830.9,1575.2 L1832.7,1572.9 L1834.6,1570.6 L1836.5,1568.3 L1838.4,1566.1 L1840.5,1563.9 L1842.5,1561.7 L1844.7,1559.6 L1846.8,1557.4 L1849.1,1555.3 L1851.3,1553.3 L1853.6,1551.4 L1855.9,1549.5 L1858.2,1547.8 L1860.7,1546.2 L1863.3,1544.6 L1866.2,1543.1 L1869,1541.6 L1871.7,1540.3 L1874.1,1539.2 L1876.2,1538.2 L1877.7,1537.4 L1876.8,1535.5 L1875.2,1536.2 L1873.2,1537.1 L1870.7,1538.1 L1867.9,1539.3 L1865,1540.7 L1862,1542.1 L1859.1,1543.6 L1856.5,1545.2 L1854,1546.9 L1851.5,1548.7 L1849.1,1550.6 L1846.7,1552.6 L1844.3,1554.7 L1842,1556.8 L1839.7,1558.9 L1837.5,1561 L1835.3,1563.2 L1833.2,1565.4 L1831.1,1567.6 L1829.1,1569.9 L1827.1,1572.2 L1825.2,1574.6 L1823.4,1576.9 L1821.6,1579.3 L1819.7,1581.9 L1817.9,1584.7 L1816.1,1587.6 L1814.4,1590.5 L1812.8,1593.2 L1811.4,1595.7 L1810.3,1597.7 L1809.4,1599.2Z" fill="#5a1512" stroke="#5a1512" stroke-width="0.6" stroke-linejoin="round"/><path d="M1849.9,1552.8 L1850.3,1551.6 L1850.9,1550.1 L1851.5,1548.3 L1852.2,1546.3 L1853,1544.2 L1853.8,1542.1 L1854.5,1540.1 L1855.2,1538.3 L1855.9,1536.7 L1856.6,1535 L1857.3,1533.2 L1858,1531.6 L1858.7,1530.1 L1859.3,1528.7 L1859.8,1527.5 L1860.2,1526.6 L1858.8,1526 L1858.4,1526.9 L1857.8,1528 L1857.2,1529.4 L1856.5,1530.9 L1855.7,1532.5 L1854.9,1534.2 L1854.1,1535.9 L1853.4,1537.6 L1852.6,1539.4 L1851.8,1541.3 L1851,1543.4 L1850.2,1545.5 L1849.4,1547.5 L1848.7,1549.3 L1848.1,1550.8 L1847.6,1551.9Z" fill="#5a1512" stroke="#5a1512" stroke-width="0.6" stroke-linejoin="round"/><path d="M1812.5,1563.1 L1812.9,1562.4 L1813.5,1561.4 L1814.2,1560.2 L1815,1558.8 L1815.9,1557.5 L1816.7,1556.1 L1817.5,1554.9 L1818.3,1553.9 L1819.1,1552.9 L1819.9,1552 L1820.7,1551.1 L1821.6,1550.2 L1822.4,1549.5 L1823.1,1548.8 L1823.7,1548.2 L1824.2,1547.7 L1823.1,1546.6 L1822.7,1547 L1822,1547.6 L1821.3,1548.2 L1820.4,1549 L1819.5,1549.8 L1818.6,1550.7 L1817.7,1551.7 L1816.8,1552.7 L1815.9,1553.7 L1815,1555 L1814.1,1556.3 L1813.2,1557.6 L1812.3,1558.9 L1811.5,1560.1 L1810.9,1561.1 L1810.4,1561.8Z" fill="#5a1512" stroke="#5a1512" stroke-width="0.6" stroke-linejoin="round"/><path d="M1825.2,1581.3 L1825.9,1580.9 L1826.9,1580.3 L1828.1,1579.6 L1829.4,1578.8 L1830.8,1578.1 L1832.1,1577.4 L1833.5,1576.7 L1834.7,1576.2 L1835.9,1575.9 L1837.3,1575.6 L1838.7,1575.3 L1840.1,1575.1 L1841.5,1574.9 L1842.7,1574.8 L1843.8,1574.6 L1844.6,1574.5 L1844.4,1573 L1843.6,1573.1 L1842.6,1573.2 L1841.3,1573.3 L1839.9,1573.4 L1838.5,1573.5 L1837,1573.7 L1835.5,1574 L1834.1,1574.4 L1832.7,1574.8 L1831.2,1575.5 L1829.8,1576.1 L1828.3,1576.9 L1827,1577.6 L1825.8,1578.2 L1824.8,1578.7 L1824,1579.1Z" fill="#5a1512" stroke="#5a1512" stroke-width="0.6" stroke-linejoin="round"/><path d="M1802,1672.9 L1801.4,1671.4 L1800.7,1669.4 L1799.8,1666.9 L1798.7,1664.1 L1797.5,1661.2 L1796.1,1658.2 L1794.5,1655.2 L1792.7,1652.4 L1790.8,1650 L1788.8,1647.6 L1786.6,1645.4 L1784.3,1643.2 L1781.9,1641 L1779.3,1638.7 L1776.5,1636.3 L1773.5,1633.8 L1770.3,1631.1 L1766.9,1628.2 L1763.3,1625.1 L1759.4,1621.9 L1755.4,1618.7 L1751.2,1615.6 L1746.7,1612.5 L1742.1,1609.6 L1736.9,1606.8 L1731,1603.8 L1724.7,1600.9 L1718.4,1598 L1712.2,1595.4 L1706.7,1593 L1702.1,1591 L1698.7,1589.5 L1697.6,1591.7 L1701,1593.4 L1705.6,1595.5 L1711,1598.1 L1717,1601 L1723.2,1604 L1729.3,1607.1 L1735,1610.2 L1739.9,1613.2 L1744.3,1616.2 L1748.5,1619.3 L1752.5,1622.5 L1756.3,1625.7 L1759.9,1629 L1763.4,1632.1 L1766.7,1635.2 L1769.8,1638 L1772.7,1640.7 L1775.4,1643.1 L1777.8,1645.4 L1780.1,1647.6 L1782.1,1649.7 L1784,1651.8 L1785.7,1654 L1787.3,1656.1 L1788.7,1658.5 L1790,1661.1 L1791.1,1663.8 L1792.2,1666.6 L1793.1,1669.3 L1793.9,1671.7 L1794.6,1673.9 L1795.1,1675.5Z" fill="#5a1512" stroke="#5a1512" stroke-width="0.6" stroke-linejoin="round"/><path d="M1733.1,1604.8 L1732.5,1603.3 L1731.6,1601.4 L1730.6,1599.1 L1729.5,1596.6 L1728.3,1594 L1727.1,1591.3 L1726.1,1588.8 L1725.2,1586.6 L1724.3,1584.4 L1723.5,1582.2 L1722.7,1580 L1721.9,1577.9 L1721.2,1575.9 L1720.6,1574.1 L1720.1,1572.5 L1719.7,1571.4 L1718.3,1571.9 L1718.6,1573 L1719.1,1574.6 L1719.6,1576.4 L1720.3,1578.4 L1721,1580.6 L1721.7,1582.9 L1722.4,1585.1 L1723.2,1587.3 L1724.1,1589.6 L1725.1,1592.2 L1726.1,1594.9 L1727.2,1597.6 L1728.2,1600.1 L1729.2,1602.4 L1730,1604.4 L1730.6,1605.8Z" fill="#5a1512" stroke="#5a1512" stroke-width="0.6" stroke-linejoin="round"/><path d="M1764.3,1627.4 L1764.3,1626.4 L1764.3,1625 L1764.3,1623.4 L1764.3,1621.6 L1764.2,1619.7 L1764.2,1617.8 L1764.1,1616 L1764,1614.4 L1763.9,1612.9 L1763.7,1611.3 L1763.4,1609.7 L1763.1,1608.2 L1762.9,1606.8 L1762.6,1605.5 L1762.4,1604.5 L1762.3,1603.7 L1760.8,1603.9 L1760.9,1604.7 L1761,1605.8 L1761.2,1607.1 L1761.5,1608.5 L1761.7,1610 L1761.8,1611.5 L1762,1613.1 L1762.1,1614.6 L1762.1,1616.1 L1762.1,1617.9 L1762.1,1619.7 L1762,1621.6 L1762,1623.4 L1761.9,1625 L1761.9,1626.3 L1761.8,1627.3Z" fill="#5a1512" stroke="#5a1512" stroke-width="0.6" stroke-linejoin="round"/><path d="M1785,1653 L1783.9,1652.1 L1782.4,1650.8 L1780.7,1649.3 L1778.8,1647.6 L1776.6,1645.8 L1774.3,1644 L1771.9,1642.3 L1769.3,1640.8 L1766.7,1639.3 L1763.9,1637.8 L1760.9,1636.4 L1757.7,1635 L1754.5,1633.6 L1751.2,1632.3 L1747.8,1631.2 L1744.4,1630.2 L1740.7,1629.3 L1736.7,1628.5 L1732.4,1627.9 L1728.1,1627.3 L1724.1,1626.8 L1720.4,1626.4 L1717.4,1626.1 L1715.1,1625.8 L1714.9,1627.6 L1717.2,1628 L1720.2,1628.4 L1723.9,1628.9 L1727.9,1629.4 L1732.1,1630 L1736.3,1630.8 L1740.2,1631.6 L1743.8,1632.5 L1747,1633.5 L1750.3,1634.7 L1753.5,1636 L1756.6,1637.4 L1759.7,1638.9 L1762.5,1640.4 L1765.3,1641.9 L1767.8,1643.3 L1770.2,1644.8 L1772.5,1646.5 L1774.7,1648.3 L1776.7,1650 L1778.6,1651.7 L1780.2,1653.3 L1781.7,1654.6 L1782.8,1655.6Z" fill="#5a1512" stroke="#5a1512" stroke-width="0.6" stroke-linejoin="round"/><path d="M1818.3,1669.9 L1819.2,1668.3 L1820.3,1666.2 L1821.5,1663.7 L1823,1661 L1824.5,1658.1 L1826.1,1655.2 L1827.8,1652.5 L1829.4,1650 L1831,1647.6 L1832.5,1645.3 L1834.1,1643.1 L1835.7,1640.9 L1837.5,1638.7 L1839.4,1636.5 L1841.5,1634.2 L1843.9,1631.8 L1846.6,1629.2 L1849.6,1626.5 L1852.7,1623.8 L1856.1,1621 L1859.6,1618.1 L1863.2,1615.4 L1866.9,1612.7 L1870.7,1610.1 L1874.8,1607.4 L1879.4,1604.7 L1884.3,1601.9 L1889.2,1599.2 L1893.9,1596.7 L1898.2,1594.4 L1901.8,1592.5 L1904.4,1591.1 L1903.3,1588.9 L1900.6,1590.2 L1896.9,1592 L1892.6,1594.1 L1887.7,1596.4 L1882.7,1599 L1877.6,1601.6 L1872.8,1604.1 L1868.5,1606.7 L1864.6,1609.2 L1860.7,1611.8 L1856.8,1614.5 L1853.2,1617.2 L1849.6,1619.9 L1846.2,1622.6 L1843.1,1625.3 L1840.2,1627.8 L1837.5,1630.3 L1835.2,1632.6 L1833,1634.9 L1831.1,1637.2 L1829.2,1639.5 L1827.5,1641.7 L1825.8,1644 L1824.1,1646.3 L1822.3,1648.9 L1820.4,1651.8 L1818.6,1654.7 L1816.9,1657.6 L1815.4,1660.3 L1814,1662.7 L1812.8,1664.7 L1811.9,1666.3Z" fill="#5a1512" stroke="#5a1512" stroke-width="0.6" stroke-linejoin="round"/><path d="M1870.1,1610 L1870.9,1608.8 L1871.9,1607.1 L1873.1,1605.2 L1874.4,1603 L1875.8,1600.6 L1877.2,1598.2 L1878.5,1595.9 L1879.7,1593.6 L1880.9,1591.2 L1882.1,1588.6 L1883.3,1585.9 L1884.5,1583.2 L1885.6,1580.7 L1886.6,1578.4 L1887.4,1576.4 L1888,1575 L1886.6,1574.4 L1886,1575.8 L1885.1,1577.7 L1884,1580 L1882.8,1582.5 L1881.6,1585.1 L1880.3,1587.8 L1879,1590.3 L1877.8,1592.6 L1876.6,1594.7 L1875.2,1597.1 L1873.7,1599.4 L1872.3,1601.7 L1870.9,1603.8 L1869.6,1605.7 L1868.6,1607.3 L1867.8,1608.6Z" fill="#5a1512" stroke="#5a1512" stroke-width="0.6" stroke-linejoin="round"/><path d="M1825.5,1652.4 L1826.5,1652.1 L1827.9,1651.8 L1829.5,1651.3 L1831.3,1650.8 L1833.2,1650.3 L1835.2,1649.9 L1837.2,1649.5 L1839.1,1649.2 L1841.1,1648.9 L1843.4,1648.8 L1845.8,1648.6 L1848.3,1648.5 L1850.6,1648.5 L1852.7,1648.4 L1854.5,1648.4 L1855.8,1648.3 L1855.8,1646.8 L1854.5,1646.8 L1852.7,1646.8 L1850.6,1646.8 L1848.2,1646.8 L1845.8,1646.8 L1843.3,1646.9 L1841,1647 L1838.9,1647.2 L1836.8,1647.4 L1834.8,1647.8 L1832.7,1648.2 L1830.8,1648.6 L1828.9,1649.1 L1827.3,1649.5 L1825.9,1649.8 L1824.9,1650Z" fill="#5a1512" stroke="#5a1512" stroke-width="0.6" stroke-linejoin="round"/><path d="M1799.5,1757.3 L1798.5,1756.3 L1797.2,1754.9 L1795.7,1753.3 L1794,1751.5 L1792.1,1749.5 L1790.2,1747.6 L1788.2,1745.6 L1786.4,1743.7 L1784.7,1742 L1783.1,1740.4 L1781.6,1738.8 L1779.9,1737.1 L1778.1,1735.2 L1775.9,1733.2 L1773.5,1731 L1770.6,1728.5 L1767.3,1725.7 L1763.7,1722.5 L1759.8,1719 L1755.5,1715.3 L1751,1711.6 L1746.2,1708 L1741.2,1704.5 L1736,1701.3 L1730.2,1698.4 L1723.7,1695.5 L1716.7,1692.7 L1709.7,1690 L1702.9,1687.6 L1696.8,1685.4 L1691.7,1683.6 L1687.9,1682.2 L1687,1684.5 L1690.7,1686.1 L1695.8,1688.1 L1701.8,1690.5 L1708.5,1693.1 L1715.3,1696 L1722.1,1699.1 L1728.4,1702.1 L1733.8,1705.2 L1738.6,1708.4 L1743.2,1711.8 L1747.7,1715.5 L1752,1719.3 L1756,1723.1 L1759.8,1726.7 L1763.3,1730.1 L1766.5,1733.1 L1769.3,1735.6 L1771.5,1737.8 L1773.5,1739.8 L1775.1,1741.6 L1776.7,1743.3 L1778.2,1745 L1779.7,1746.7 L1781.4,1748.5 L1783.1,1750.4 L1785,1752.4 L1786.8,1754.5 L1788.6,1756.5 L1790.2,1758.3 L1791.7,1760 L1793,1761.4 L1793.9,1762.5Z" fill="#5a1512" stroke="#5a1512" stroke-width="0.6" stroke-linejoin="round"/><path d="M1709.9,1690.9 L1709.3,1690.1 L1708.4,1688.9 L1707.4,1687.5 L1706.4,1686 L1705.2,1684.4 L1704.1,1682.8 L1703,1681.2 L1702.1,1679.8 L1701.2,1678.4 L1700.2,1676.9 L1699.3,1675.3 L1698.4,1673.8 L1697.6,1672.4 L1696.9,1671.1 L1696.2,1670 L1695.8,1669.2 L1694.4,1670 L1694.9,1670.8 L1695.5,1671.9 L1696.2,1673.2 L1696.9,1674.7 L1697.8,1676.2 L1698.6,1677.8 L1699.5,1679.4 L1700.4,1680.8 L1701.3,1682.3 L1702.3,1683.9 L1703.4,1685.6 L1704.5,1687.3 L1705.6,1688.8 L1706.5,1690.3 L1707.3,1691.4 L1707.9,1692.3Z" fill="#5a1512" stroke="#5a1512" stroke-width="0.6" stroke-linejoin="round"/><path d="M1739.9,1705.9 L1739.4,1704.7 L1738.8,1703.1 L1738.1,1701.2 L1737.3,1699.1 L1736.5,1696.9 L1735.7,1694.7 L1735,1692.6 L1734.4,1690.7 L1733.8,1688.9 L1733.3,1687.1 L1732.8,1685.2 L1732.4,1683.4 L1732,1681.8 L1731.6,1680.2 L1731.3,1679 L1731.1,1678 L1729.6,1678.3 L1729.8,1679.3 L1730,1680.6 L1730.3,1682.1 L1730.7,1683.8 L1731,1685.7 L1731.4,1687.6 L1731.9,1689.5 L1732.4,1691.3 L1732.9,1693.2 L1733.6,1695.4 L1734.3,1697.6 L1735,1699.9 L1735.7,1702 L1736.3,1704 L1736.9,1705.6 L1737.3,1706.8Z" fill="#5a1512" stroke="#5a1512" stroke-width="0.6" stroke-linejoin="round"/><path d="M1735.5,1703.9 L1734,1703.9 L1732.1,1704 L1729.8,1704 L1727.2,1704 L1724.5,1704.1 L1721.7,1704.3 L1719,1704.5 L1716.4,1704.7 L1713.8,1705.1 L1711,1705.6 L1708.1,1706.1 L1705.2,1706.7 L1702.5,1707.3 L1700.1,1707.9 L1698,1708.3 L1696.5,1708.6 L1696.8,1710.1 L1698.3,1709.8 L1700.4,1709.4 L1702.8,1709 L1705.6,1708.4 L1708.4,1707.9 L1711.3,1707.4 L1714.1,1707 L1716.6,1706.7 L1719.2,1706.5 L1721.8,1706.4 L1724.6,1706.3 L1727.3,1706.3 L1729.8,1706.3 L1732.1,1706.3 L1734.1,1706.3 L1735.5,1706.3Z" fill="#5a1512" stroke="#5a1512" stroke-width="0.6" stroke-linejoin="round"/><path d="M1799.5,1724 L1798.8,1722.9 L1798,1721.3 L1796.9,1719.4 L1795.8,1717.3 L1794.6,1715.1 L1793.3,1712.8 L1792.1,1710.7 L1790.9,1708.8 L1789.7,1707 L1788.4,1705.1 L1787,1703.3 L1785.6,1701.5 L1784.3,1699.8 L1783.1,1698.3 L1782.2,1697 L1781.4,1696.1 L1780.2,1697 L1780.9,1698 L1781.8,1699.3 L1782.9,1700.8 L1784.2,1702.5 L1785.5,1704.4 L1786.8,1706.3 L1788,1708.1 L1789.1,1709.9 L1790.2,1711.8 L1791.3,1714 L1792.5,1716.2 L1793.6,1718.4 L1794.7,1720.6 L1795.6,1722.5 L1796.4,1724.1 L1797,1725.3Z" fill="#5a1512" stroke="#5a1512" stroke-width="0.6" stroke-linejoin="round"/><path d="M1819.5,1747.5 L1820.7,1746.4 L1822.3,1744.9 L1824.2,1743.1 L1826.3,1741.2 L1828.6,1739.2 L1830.8,1737.1 L1833,1735.2 L1835,1733.4 L1836.9,1731.8 L1838.5,1730.4 L1840.2,1728.9 L1841.8,1727.6 L1843.5,1726.1 L1845.4,1724.6 L1847.5,1722.9 L1850,1720.9 L1852.7,1718.7 L1855.5,1716.3 L1858.5,1713.7 L1861.7,1711.1 L1865,1708.4 L1868.6,1705.8 L1872.5,1703.2 L1876.8,1700.7 L1881.8,1698.1 L1887.7,1695.4 L1894.3,1692.6 L1901,1689.8 L1907.5,1687.2 L1913.4,1684.9 L1918.4,1682.9 L1922.1,1681.4 L1921.2,1679.2 L1917.5,1680.5 L1912.5,1682.2 L1906.4,1684.3 L1899.8,1686.7 L1892.9,1689.1 L1886.2,1691.7 L1880,1694.2 L1874.7,1696.7 L1870.1,1699.1 L1865.9,1701.7 L1862,1704.3 L1858.4,1706.9 L1855.1,1709.5 L1852,1711.9 L1849.1,1714.2 L1846.3,1716.2 L1843.8,1718 L1841.6,1719.7 L1839.6,1721.2 L1837.8,1722.6 L1836,1723.9 L1834.3,1725.3 L1832.6,1726.7 L1830.7,1728.2 L1828.6,1729.9 L1826.3,1731.8 L1823.9,1733.8 L1821.6,1735.7 L1819.3,1737.6 L1817.3,1739.3 L1815.7,1740.7 L1814.4,1741.7Z" fill="#5a1512" stroke="#5a1512" stroke-width="0.6" stroke-linejoin="round"/><path d="M1876.3,1700.2 L1876.9,1699 L1877.6,1697.5 L1878.4,1695.6 L1879.3,1693.6 L1880.2,1691.4 L1881.2,1689.2 L1882,1687.2 L1882.8,1685.3 L1883.5,1683.5 L1884.1,1681.6 L1884.8,1679.7 L1885.4,1677.8 L1885.9,1676.1 L1886.4,1674.6 L1886.8,1673.3 L1887.1,1672.3 L1885.7,1671.8 L1885.3,1672.8 L1884.9,1674 L1884.3,1675.6 L1883.7,1677.3 L1883,1679.1 L1882.3,1680.9 L1881.6,1682.8 L1880.9,1684.5 L1880.1,1686.3 L1879.1,1688.3 L1878.1,1690.4 L1877.1,1692.5 L1876.1,1694.5 L1875.2,1696.3 L1874.4,1697.9 L1873.9,1699Z" fill="#5a1512" stroke="#5a1512" stroke-width="0.6" stroke-linejoin="round"/><path d="M1854,1715.9 L1855.9,1716.3 L1858.4,1716.8 L1861.5,1717.5 L1864.8,1718.1 L1868.4,1718.8 L1872,1719.4 L1875.5,1719.9 L1878.7,1720.2 L1881.8,1720.4 L1885.2,1720.4 L1888.5,1720.2 L1891.8,1720.1 L1894.9,1719.8 L1897.7,1719.6 L1900,1719.4 L1901.8,1719.3 L1901.7,1717.8 L1899.9,1717.9 L1897.6,1718 L1894.8,1718.1 L1891.7,1718.3 L1888.5,1718.4 L1885.2,1718.4 L1881.9,1718.3 L1878.9,1718.1 L1875.8,1717.7 L1872.4,1717.2 L1868.9,1716.5 L1865.3,1715.7 L1862,1715 L1859,1714.2 L1856.5,1713.7 L1854.6,1713.2Z" fill="#5a1512" stroke="#5a1512" stroke-width="0.6" stroke-linejoin="round"/><path d="M1798.3,1818.3 L1797.2,1817.2 L1795.7,1815.8 L1793.9,1814.2 L1792,1812.3 L1789.8,1810.3 L1787.6,1808.3 L1785.3,1806.3 L1783,1804.6 L1780.9,1803 L1778.8,1801.5 L1776.7,1800 L1774.5,1798.5 L1772.2,1797 L1769.6,1795.5 L1766.9,1794 L1763.9,1792.4 L1760.7,1790.8 L1757.4,1789 L1753.8,1787.2 L1750,1785.3 L1745.9,1783.5 L1741.7,1781.8 L1737.2,1780.3 L1732.4,1779 L1727,1778 L1721,1777.2 L1714.5,1776.6 L1707.9,1776.1 L1701.6,1775.6 L1695.9,1775.3 L1691.1,1775 L1687.6,1774.7 L1687.3,1777.5 L1690.8,1777.9 L1695.6,1778.4 L1701.3,1779 L1707.6,1779.7 L1714,1780.5 L1720.4,1781.4 L1726.2,1782.4 L1731.3,1783.6 L1735.7,1785 L1739.8,1786.6 L1743.8,1788.3 L1747.6,1790.2 L1751.2,1792.2 L1754.6,1794.1 L1757.9,1796 L1761,1797.8 L1763.8,1799.4 L1766.3,1801 L1768.6,1802.5 L1770.7,1804 L1772.8,1805.4 L1774.7,1807 L1776.6,1808.5 L1778.6,1810.1 L1780.6,1811.8 L1782.6,1813.7 L1784.7,1815.7 L1786.7,1817.7 L1788.5,1819.6 L1790.2,1821.4 L1791.6,1822.9 L1792.7,1824Z" fill="#5a1512" stroke="#5a1512" stroke-width="0.6" stroke-linejoin="round"/><path d="M1732.8,1779.5 L1731.6,1778.2 L1730.1,1776.6 L1728.2,1774.7 L1726.1,1772.5 L1723.9,1770.2 L1721.6,1767.9 L1719.4,1765.7 L1717.3,1763.7 L1715.2,1761.7 L1712.9,1759.7 L1710.5,1757.5 L1708.2,1755.5 L1706,1753.5 L1704,1751.8 L1702.4,1750.3 L1701.1,1749.2 L1700.1,1750.4 L1701.3,1751.5 L1702.9,1753 L1704.9,1754.8 L1707,1756.8 L1709.3,1758.9 L1711.5,1761.1 L1713.8,1763.2 L1715.8,1765.2 L1717.8,1767.3 L1719.9,1769.6 L1722.1,1771.9 L1724.3,1774.2 L1726.3,1776.4 L1728.1,1778.4 L1729.7,1780.1 L1730.8,1781.4Z" fill="#5a1512" stroke="#5a1512" stroke-width="0.6" stroke-linejoin="round"/><path d="M1764.3,1795.2 L1763.7,1793.7 L1762.8,1791.7 L1761.8,1789.3 L1760.6,1786.6 L1759.4,1783.8 L1758.1,1781.1 L1756.9,1778.5 L1755.7,1776.2 L1754.5,1774.2 L1753.2,1772.1 L1751.8,1770.1 L1750.4,1768.2 L1749.1,1766.4 L1747.9,1764.8 L1747,1763.5 L1746.2,1762.5 L1745,1763.4 L1745.7,1764.4 L1746.6,1765.8 L1747.7,1767.4 L1749,1769.2 L1750.3,1771.1 L1751.5,1773.1 L1752.8,1775.2 L1753.9,1777.2 L1755,1779.5 L1756.1,1782 L1757.2,1784.8 L1758.4,1787.6 L1759.4,1790.2 L1760.4,1792.7 L1761.2,1794.7 L1761.8,1796.2Z" fill="#5a1512" stroke="#5a1512" stroke-width="0.6" stroke-linejoin="round"/><path d="M1821.7,1818.9 L1822.7,1818 L1824.1,1816.7 L1825.7,1815.2 L1827.5,1813.5 L1829.4,1811.8 L1831.3,1810.1 L1833.2,1808.5 L1835,1807.1 L1836.6,1805.9 L1838.1,1804.7 L1839.5,1803.7 L1840.9,1802.6 L1842.4,1801.6 L1844.3,1800.5 L1846.6,1799.3 L1849.4,1797.9 L1853,1796.3 L1857.1,1794.4 L1861.6,1792.4 L1866.4,1790.3 L1871.4,1788.3 L1876.3,1786.4 L1881,1784.8 L1885.4,1783.4 L1889.7,1782.4 L1894.3,1781.5 L1898.9,1780.9 L1903.4,1780.3 L1907.6,1779.9 L1911.5,1779.6 L1914.7,1779.3 L1917.2,1779 L1916.9,1776.3 L1914.5,1776.4 L1911.3,1776.6 L1907.4,1776.7 L1903.1,1776.9 L1898.5,1777.2 L1893.7,1777.7 L1889,1778.3 L1884.4,1779.2 L1879.7,1780.4 L1874.8,1781.9 L1869.6,1783.6 L1864.5,1785.4 L1859.5,1787.2 L1854.8,1789.1 L1850.6,1790.8 L1846.9,1792.3 L1843.8,1793.6 L1841.3,1794.8 L1839.1,1795.9 L1837.3,1797 L1835.6,1798.1 L1834,1799.1 L1832.5,1800.2 L1830.7,1801.4 L1828.8,1802.9 L1826.7,1804.5 L1824.6,1806.1 L1822.5,1807.8 L1820.6,1809.4 L1818.9,1810.9 L1817.5,1812 L1816.5,1812.9Z" fill="#5a1512" stroke="#5a1512" stroke-width="0.6" stroke-linejoin="round"/><path d="M1851.8,1794.6 L1852.4,1793.5 L1853.3,1792 L1854.3,1790.2 L1855.4,1788.3 L1856.5,1786.2 L1857.7,1784.1 L1858.8,1782.1 L1859.8,1780.3 L1860.7,1778.5 L1861.7,1776.7 L1862.7,1774.8 L1863.7,1772.9 L1864.6,1771.2 L1865.4,1769.6 L1866.1,1768.3 L1866.6,1767.3 L1865.2,1766.6 L1864.7,1767.5 L1864,1768.8 L1863.1,1770.4 L1862.1,1772.1 L1861.1,1773.9 L1860,1775.7 L1859,1777.5 L1858,1779.3 L1856.9,1781 L1855.7,1783 L1854.5,1785 L1853.2,1787 L1852.1,1788.9 L1851,1790.6 L1850.1,1792.1 L1849.4,1793.2Z" fill="#5a1512" stroke="#5a1512" stroke-width="0.6" stroke-linejoin="round"/><path d="M1887.4,1782 L1888.2,1781.1 L1889.3,1779.9 L1890.5,1778.5 L1891.9,1777 L1893.4,1775.3 L1894.9,1773.7 L1896.4,1772.2 L1897.8,1770.8 L1899.4,1769.5 L1901.1,1768.1 L1902.9,1766.7 L1904.8,1765.3 L1906.5,1764 L1908.1,1762.8 L1909.4,1761.9 L1910.4,1761.1 L1909.6,1759.9 L1908.5,1760.6 L1907.2,1761.5 L1905.5,1762.6 L1903.7,1763.8 L1901.8,1765.1 L1899.9,1766.5 L1898.1,1767.9 L1896.4,1769.2 L1894.9,1770.6 L1893.2,1772.1 L1891.6,1773.7 L1890.1,1775.2 L1888.6,1776.8 L1887.3,1778.1 L1886.2,1779.2 L1885.4,1780.1Z" fill="#5a1512" stroke="#5a1512" stroke-width="0.6" stroke-linejoin="round"/>
<rect x="1600" y="1908" width="416" height="38" fill="url(#soil)"/>
<circle cx="1690.8" cy="1978.5" r="16" fill="#bdb56a"/><circle cx="1737.6" cy="1978.5" r="16" fill="#bdb56a"/><circle cx="1785.6" cy="1978.5" r="16" fill="#bdb56a"/><circle cx="1833.5" cy="1978.5" r="16" fill="#bdb56a"/><circle cx="1880.9" cy="1978.5" r="16" fill="#bdb56a"/><circle cx="1928.8" cy="1978.5" r="16" fill="#bdb56a"/><circle cx="1690.8" cy="2021.7" r="16" fill="#bdb56a"/><circle cx="1737.6" cy="2021.7" r="16" fill="#bdb56a"/><circle cx="1785.6" cy="2021.7" r="16" fill="#bdb56a"/><circle cx="1833.5" cy="2021.7" r="16" fill="#bdb56a"/><circle cx="1880.9" cy="2021.7" r="16" fill="#bdb56a"/><circle cx="1928.8" cy="2021.7" r="16" fill="#bdb56a"/><circle cx="1690.8" cy="2065.5" r="16" fill="#bdb56a"/><circle cx="1737.6" cy="2065.5" r="16" fill="#bdb56a"/><circle cx="1785.6" cy="2065.5" r="16" fill="#bdb56a"/><circle cx="1833.5" cy="2065.5" r="16" fill="#bdb56a"/><circle cx="1880.9" cy="2065.5" r="16" fill="#bdb56a"/><circle cx="1928.8" cy="2065.5" r="16" fill="#bdb56a"/><circle cx="1690.8" cy="2108.6" r="16" fill="#bdb56a"/><circle cx="1737.6" cy="2108.6" r="16" fill="#bdb56a"/><circle cx="1785.6" cy="2108.6" r="16" fill="#bdb56a"/><circle cx="1833.5" cy="2108.6" r="16" fill="#bdb56a"/><circle cx="1880.9" cy="2108.6" r="16" fill="#bdb56a"/><circle cx="1928.8" cy="2108.6" r="16" fill="#bdb56a"/><circle cx="1690.8" cy="2152.4" r="16" fill="#bdb56a"/><circle cx="1737.6" cy="2152.4" r="16" fill="#bdb56a"/><circle cx="1785.6" cy="2152.4" r="16" fill="#bdb56a"/><circle cx="1833.5" cy="2152.4" r="16" fill="#bdb56a"/><circle cx="1880.9" cy="2152.4" r="16" fill="#bdb56a"/><circle cx="1928.8" cy="2152.4" r="16" fill="#bdb56a"/>
<circle cx="3933.7" cy="1179.5" r="15.3" fill="#767676"/><path d="M3989,1155.5 L4013.7,1173.5 L4004.3,1202.5 L3973.7,1202.5 L3964.3,1173.5Z" fill="#bfb862"/><circle cx="4044.3" cy="1179.5" r="15.3" fill="#767676"/><path d="M4099.6,1155.5 L4124.3,1173.5 L4114.9,1202.5 L4084.3,1202.5 L4074.9,1173.5Z" fill="#bfb862"/><circle cx="4154.9" cy="1179.5" r="15.3" fill="#767676"/><path d="M4210.2,1155.5 L4234.9,1173.5 L4225.5,1202.5 L4194.9,1202.5 L4185.5,1173.5Z" fill="#b4714a"/><path d="M3943.4,1211.5 L3968.1,1229.5 L3958.7,1258.5 L3928.1,1258.5 L3918.7,1229.5Z" fill="#b4714a"/><circle cx="3998.7" cy="1235.5" r="15.3" fill="#767676"/><path d="M4054,1211.5 L4078.7,1229.5 L4069.3,1258.5 L4038.7,1258.5 L4029.3,1229.5Z" fill="#4a9064"/><circle cx="4109.3" cy="1235.5" r="15.3" fill="#767676"/><path d="M4164.6,1211.5 L4189.3,1229.5 L4179.9,1258.5 L4149.3,1258.5 L4139.9,1229.5Z" fill="#bfb862"/><circle cx="4219.9" cy="1235.5" r="15.3" fill="#767676"/><circle cx="3933.7" cy="1291.5" r="15.3" fill="#767676"/><path d="M3989,1267.5 L4013.7,1285.5 L4004.3,1314.5 L3973.7,1314.5 L3964.3,1285.5Z" fill="#bfb862"/><circle cx="4044.3" cy="1291.5" r="15.3" fill="#767676"/><path d="M4099.6,1267.5 L4124.3,1285.5 L4114.9,1314.5 L4084.3,1314.5 L4074.9,1285.5Z" fill="#b4714a"/><circle cx="4154.9" cy="1291.5" r="15.3" fill="#767676"/><path d="M4210.2,1267.5 L4234.9,1285.5 L4225.5,1314.5 L4194.9,1314.5 L4185.5,1285.5Z" fill="#bfb862"/><path d="M3943.4,1323.5 L3968.1,1341.5 L3958.7,1370.5 L3928.1,1370.5 L3918.7,1341.5Z" fill="#4a9064"/><circle cx="3998.7" cy="1347.5" r="15.3" fill="#767676"/><path d="M4054,1323.5 L4078.7,1341.5 L4069.3,1370.5 L4038.7,1370.5 L4029.3,1341.5Z" fill="#bfb862"/><circle cx="4109.3" cy="1347.5" r="15.3" fill="#767676"/><path d="M4164.6,1323.5 L4189.3,1341.5 L4179.9,1370.5 L4149.3,1370.5 L4139.9,1341.5Z" fill="#4a9064"/><circle cx="4219.9" cy="1347.5" r="15.3" fill="#767676"/><circle cx="3933.7" cy="1403.5" r="15.3" fill="#767676"/><path d="M3989,1379.5 L4013.7,1397.5 L4004.3,1426.5 L3973.7,1426.5 L3964.3,1397.5Z" fill="#b4714a"/><circle cx="4044.3" cy="1403.5" r="15.3" fill="#767676"/><path d="M4099.6,1379.5 L4124.3,1397.5 L4114.9,1426.5 L4084.3,1426.5 L4074.9,1397.5Z" fill="#bfb862"/><circle cx="4154.9" cy="1403.5" r="15.3" fill="#767676"/><path d="M4210.2,1379.5 L4234.9,1397.5 L4225.5,1426.5 L4194.9,1426.5 L4185.5,1397.5Z" fill="#b4714a"/>
<circle cx="4328.4" cy="2647.9" r="15.3" fill="#767676"/><path d="M4383.6,2623.9 L4408.3,2641.9 L4398.9,2670.9 L4368.3,2670.9 L4358.9,2641.9Z" fill="#bfb862"/><circle cx="4438.8" cy="2647.9" r="15.3" fill="#767676"/><path d="M4494,2623.9 L4518.7,2641.9 L4509.3,2670.9 L4478.7,2670.9 L4469.3,2641.9Z" fill="#bfb862"/><circle cx="4549.2" cy="2647.9" r="15.3" fill="#767676"/><path d="M4604.4,2623.9 L4629.1,2641.9 L4619.7,2670.9 L4589.1,2670.9 L4579.7,2641.9Z" fill="#b4714a"/><path d="M4338.4,2679.7 L4363.1,2697.7 L4353.7,2726.7 L4323.1,2726.7 L4313.7,2697.7Z" fill="#b4714a"/><circle cx="4393.6" cy="2703.7" r="15.3" fill="#767676"/><path d="M4448.8,2679.7 L4473.5,2697.7 L4464.1,2726.7 L4433.5,2726.7 L4424.1,2697.7Z" fill="#4a9064"/><circle cx="4504" cy="2703.7" r="15.3" fill="#767676"/><path d="M4559.2,2679.7 L4583.9,2697.7 L4574.5,2726.7 L4543.9,2726.7 L4534.5,2697.7Z" fill="#bfb862"/><circle cx="4614.4" cy="2703.7" r="15.3" fill="#767676"/><circle cx="4328.4" cy="2759.5" r="15.3" fill="#767676"/><path d="M4383.6,2735.5 L4408.3,2753.5 L4398.9,2782.5 L4368.3,2782.5 L4358.9,2753.5Z" fill="#bfb862"/><circle cx="4438.8" cy="2759.5" r="15.3" fill="#767676"/><path d="M4494,2735.5 L4518.7,2753.5 L4509.3,2782.5 L4478.7,2782.5 L4469.3,2753.5Z" fill="#b4714a"/><circle cx="4549.2" cy="2759.5" r="15.3" fill="#767676"/><path d="M4604.4,2735.5 L4629.1,2753.5 L4619.7,2782.5 L4589.1,2782.5 L4579.7,2753.5Z" fill="#bfb862"/><path d="M4338.4,2791.3 L4363.1,2809.3 L4353.7,2838.3 L4323.1,2838.3 L4313.7,2809.3Z" fill="#4a9064"/><circle cx="4393.6" cy="2815.3" r="15.3" fill="#767676"/><path d="M4448.8,2791.3 L4473.5,2809.3 L4464.1,2838.3 L4433.5,2838.3 L4424.1,2809.3Z" fill="#bfb862"/><circle cx="4504" cy="2815.3" r="15.3" fill="#767676"/><path d="M4559.2,2791.3 L4583.9,2809.3 L4574.5,2838.3 L4543.9,2838.3 L4534.5,2809.3Z" fill="#4a9064"/><circle cx="4614.4" cy="2815.3" r="15.3" fill="#767676"/><circle cx="4328.4" cy="2871.1" r="15.3" fill="#767676"/><path d="M4383.6,2847.1 L4408.3,2865.1 L4398.9,2894.1 L4368.3,2894.1 L4358.9,2865.1Z" fill="#b4714a"/><circle cx="4438.8" cy="2871.1" r="15.3" fill="#767676"/><path d="M4494,2847.1 L4518.7,2865.1 L4509.3,2894.1 L4478.7,2894.1 L4469.3,2865.1Z" fill="#bfb862"/><circle cx="4549.2" cy="2871.1" r="15.3" fill="#767676"/><path d="M4604.4,2847.1 L4629.1,2865.1 L4619.7,2894.1 L4589.1,2894.1 L4579.7,2865.1Z" fill="#b4714a"/>
<circle cx="4440.1" cy="2069.4" r="15.3" fill="#767676"/><path d="M4495.2,2045.4 L4519.9,2063.4 L4510.5,2092.4 L4479.9,2092.4 L4470.5,2063.4Z" fill="#bfb862"/><circle cx="4550.3" cy="2069.4" r="15.3" fill="#767676"/><path d="M4605.4,2045.4 L4630.1,2063.4 L4620.7,2092.4 L4590.1,2092.4 L4580.7,2063.4Z" fill="#bfb862"/><circle cx="4660.5" cy="2069.4" r="15.3" fill="#767676"/><path d="M4715.6,2045.4 L4740.3,2063.4 L4730.9,2092.4 L4700.3,2092.4 L4690.9,2063.4Z" fill="#b4714a"/><path d="M4450.1,2101.2 L4474.8,2119.2 L4465.4,2148.2 L4434.8,2148.2 L4425.4,2119.2Z" fill="#b4714a"/><circle cx="4505.2" cy="2125.2" r="15.3" fill="#767676"/><path d="M4560.3,2101.2 L4585,2119.2 L4575.6,2148.2 L4545,2148.2 L4535.6,2119.2Z" fill="#4a9064"/><circle cx="4615.4" cy="2125.2" r="15.3" fill="#767676"/><path d="M4670.5,2101.2 L4695.2,2119.2 L4685.8,2148.2 L4655.2,2148.2 L4645.8,2119.2Z" fill="#bfb862"/><circle cx="4725.6" cy="2125.2" r="15.3" fill="#767676"/><circle cx="4440.1" cy="2181" r="15.3" fill="#767676"/><path d="M4495.2,2157 L4519.9,2175 L4510.5,2204 L4479.9,2204 L4470.5,2175Z" fill="#bfb862"/><circle cx="4550.3" cy="2181" r="15.3" fill="#767676"/><path d="M4605.4,2157 L4630.1,2175 L4620.7,2204 L4590.1,2204 L4580.7,2175Z" fill="#b4714a"/><circle cx="4660.5" cy="2181" r="15.3" fill="#767676"/><path d="M4715.6,2157 L4740.3,2175 L4730.9,2204 L4700.3,2204 L4690.9,2175Z" fill="#bfb862"/><path d="M4450.1,2212.8 L4474.8,2230.8 L4465.4,2259.8 L4434.8,2259.8 L4425.4,2230.8Z" fill="#4a9064"/><circle cx="4505.2" cy="2236.8" r="15.3" fill="#767676"/><path d="M4560.3,2212.8 L4585,2230.8 L4575.6,2259.8 L4545,2259.8 L4535.6,2230.8Z" fill="#bfb862"/><circle cx="4615.4" cy="2236.8" r="15.3" fill="#767676"/><path d="M4670.5,2212.8 L4695.2,2230.8 L4685.8,2259.8 L4655.2,2259.8 L4645.8,2230.8Z" fill="#4a9064"/><circle cx="4725.6" cy="2236.8" r="15.3" fill="#767676"/><circle cx="4440.1" cy="2292.6" r="15.3" fill="#767676"/><path d="M4495.2,2268.6 L4519.9,2286.6 L4510.5,2315.6 L4479.9,2315.6 L4470.5,2286.6Z" fill="#b4714a"/><circle cx="4550.3" cy="2292.6" r="15.3" fill="#767676"/><path d="M4605.4,2268.6 L4630.1,2286.6 L4620.7,2315.6 L4590.1,2315.6 L4580.7,2286.6Z" fill="#bfb862"/><circle cx="4660.5" cy="2292.6" r="15.3" fill="#767676"/><path d="M4715.6,2268.6 L4740.3,2286.6 L4730.9,2315.6 L4700.3,2315.6 L4690.9,2286.6Z" fill="#b4714a"/>
<circle cx="3025.3" cy="2040" r="15" fill="#767676"/><path d="M3076.2,2017 L3100,2034.3 L3090.9,2062.2 L3061.5,2062.2 L3052.4,2034.3Z" fill="#bdb662"/><circle cx="3127" cy="2040" r="15" fill="#767676"/><circle cx="3171.8" cy="2040" r="15" fill="#767676"/><path d="M3221.6,2017 L3245.4,2034.3 L3236.3,2062.2 L3206.9,2062.2 L3197.8,2034.3Z" fill="#bdb662"/><circle cx="3272.8" cy="2040" r="15" fill="#767676"/><circle cx="3027.3" cy="2095" r="15" fill="#767676"/><circle cx="3078.2" cy="2095" r="15" fill="#767676"/><circle cx="3129" cy="2095" r="15" fill="#767676"/><circle cx="3173.8" cy="2095" r="15" fill="#767676"/><circle cx="3223.6" cy="2095" r="15" fill="#767676"/><circle cx="3274.8" cy="2095" r="15" fill="#767676"/><circle cx="3025.3" cy="2150.2" r="15" fill="#767676"/><path d="M3076.2,2127.2 L3100,2144.5 L3090.9,2172.4 L3061.5,2172.4 L3052.4,2144.5Z" fill="#bdb662"/><circle cx="3127" cy="2150.2" r="15" fill="#767676"/><circle cx="3171.8" cy="2150.2" r="15" fill="#767676"/><path d="M3221.6,2127.2 L3245.4,2144.5 L3236.3,2172.4 L3206.9,2172.4 L3197.8,2144.5Z" fill="#bdb662"/><circle cx="3272.8" cy="2150.2" r="15" fill="#767676"/><circle cx="3027.3" cy="2205.3" r="15" fill="#767676"/><circle cx="3078.2" cy="2205.3" r="15" fill="#767676"/><circle cx="3129" cy="2205.3" r="15" fill="#767676"/><circle cx="3173.8" cy="2205.3" r="15" fill="#767676"/><circle cx="3223.6" cy="2205.3" r="15" fill="#767676"/><circle cx="3274.8" cy="2205.3" r="15" fill="#767676"/><circle cx="3025.3" cy="2258.8" r="15" fill="#767676"/><path d="M3076.2,2235.8 L3100,2253.1 L3090.9,2281 L3061.5,2281 L3052.4,2253.1Z" fill="#bdb662"/><circle cx="3127" cy="2258.8" r="15" fill="#767676"/><circle cx="3171.8" cy="2258.8" r="15" fill="#767676"/><path d="M3221.6,2235.8 L3245.4,2253.1 L3236.3,2281 L3206.9,2281 L3197.8,2253.1Z" fill="#bdb662"/><circle cx="3272.8" cy="2258.8" r="15" fill="#767676"/>
<path d="M4073.8,685 L4343.6,578.7 A27.5,27.5 0 0 0 4323.4,527.5 L4053.6,633.8Z" fill="url(#logg)"/><path d="M4141.7,636.4 L4418.2,520.1 A27.5,27.5 0 0 0 4396.9,469.4 L4120.3,585.6Z" fill="url(#logg)"/><path d="M4125.7,710.7 L4405.7,603.2 A27.5,27.5 0 0 0 4386,551.8 L4105.9,659.3Z" fill="url(#logg)"/><path d="M4191.2,665.4 L4470.4,561 A27.5,27.5 0 0 0 4451.1,509.5 L4172,613.8Z" fill="url(#logg)"/><path d="M4174.9,735.5 L4496.9,611.8 A27.5,27.5 0 0 0 4477.2,560.5 L4155.1,684.1Z" fill="url(#logg)"/><circle cx="4131" cy="611" r="27.5" fill="#e4c189"/><circle cx="4131" cy="611" r="21" fill="none" stroke="#d2aa6e" stroke-width="1.3"/><circle cx="4131" cy="611" r="15" fill="none" stroke="#d2aa6e" stroke-width="1.3"/><circle cx="4131" cy="611" r="9" fill="none" stroke="#d2aa6e" stroke-width="1.3"/><circle cx="4131" cy="611" r="4" fill="none" stroke="#d2aa6e" stroke-width="1.3"/><circle cx="4131" cy="611" r="26.5" fill="none" stroke="#c99f63" stroke-width="2"/><circle cx="4063.7" cy="659.4" r="27.5" fill="#e4c189"/><circle cx="4063.7" cy="659.4" r="21" fill="none" stroke="#d2aa6e" stroke-width="1.3"/><circle cx="4063.7" cy="659.4" r="15" fill="none" stroke="#d2aa6e" stroke-width="1.3"/><circle cx="4063.7" cy="659.4" r="9" fill="none" stroke="#d2aa6e" stroke-width="1.3"/><circle cx="4063.7" cy="659.4" r="4" fill="none" stroke="#d2aa6e" stroke-width="1.3"/><circle cx="4063.7" cy="659.4" r="26.5" fill="none" stroke="#c99f63" stroke-width="2"/><circle cx="4181.6" cy="639.6" r="27.5" fill="#e4c189"/><circle cx="4181.6" cy="639.6" r="21" fill="none" stroke="#d2aa6e" stroke-width="1.3"/><circle cx="4181.6" cy="639.6" r="15" fill="none" stroke="#d2aa6e" stroke-width="1.3"/><circle cx="4181.6" cy="639.6" r="9" fill="none" stroke="#d2aa6e" stroke-width="1.3"/><circle cx="4181.6" cy="639.6" r="4" fill="none" stroke="#d2aa6e" stroke-width="1.3"/><circle cx="4181.6" cy="639.6" r="26.5" fill="none" stroke="#c99f63" stroke-width="2"/><circle cx="4115.8" cy="685" r="27.5" fill="#e4c189"/><circle cx="4115.8" cy="685" r="21" fill="none" stroke="#d2aa6e" stroke-width="1.3"/><circle cx="4115.8" cy="685" r="15" fill="none" stroke="#d2aa6e" stroke-width="1.3"/><circle cx="4115.8" cy="685" r="9" fill="none" stroke="#d2aa6e" stroke-width="1.3"/><circle cx="4115.8" cy="685" r="4" fill="none" stroke="#d2aa6e" stroke-width="1.3"/><circle cx="4115.8" cy="685" r="26.5" fill="none" stroke="#c99f63" stroke-width="2"/><circle cx="4165" cy="709.8" r="27.5" fill="#e4c189"/><circle cx="4165" cy="709.8" r="21" fill="none" stroke="#d2aa6e" stroke-width="1.3"/><circle cx="4165" cy="709.8" r="15" fill="none" stroke="#d2aa6e" stroke-width="1.3"/><circle cx="4165" cy="709.8" r="9" fill="none" stroke="#d2aa6e" stroke-width="1.3"/><circle cx="4165" cy="709.8" r="4" fill="none" stroke="#d2aa6e" stroke-width="1.3"/><circle cx="4165" cy="709.8" r="26.5" fill="none" stroke="#c99f63" stroke-width="2"/>
<path d="M4429,1508.6 L4500.8,1553.3 L4500.8,1508.6 L4572.4,1553.3 L4572.4,1508.6 L4644,1553.3 L4644,1450.4 L4686.8,1450.4 L4686.8,1656.8 L4429,1656.8Z" fill="#727272"/>
<path d="M4668,1433 C4664,1420 4660,1412 4652,1404 C4642,1412 4628,1412 4618,1404 C4606,1410 4590,1408 4580,1396 C4566,1398 4548,1392 4540,1380 C4522,1390 4494,1386 4484,1368 C4470,1346 4480,1318 4508,1316 C4522,1310 4540,1312 4548,1326 C4560,1318 4580,1320 4590,1332 C4604,1326 4622,1332 4628,1346 C4646,1344 4660,1356 4658,1372 C4668,1384 4668,1396 4662,1404 C4670,1412 4674,1424 4668,1433Z" fill="#b4b4b4"/>
<path d="M4560,1638 C4546,1638 4538,1628 4538,1616 C4538,1604 4545,1596 4550,1588 C4548,1596 4551,1602 4556,1604 C4550,1594 4548,1582 4556,1572 C4554,1582 4558,1590 4564,1594 C4562,1584 4566,1572 4574,1566 C4570,1576 4572,1588 4576,1596 C4580,1604 4582,1610 4582,1616 C4582,1628 4574,1638 4560,1638Z" fill="#e60012"/>
<path d="M2494,1594.8 L2924.2,1594.8 L2900.8,1725.8 L2522.2,1725.8Z" fill="#5c1514"/>
<path d="M2519,1595 L2519,1585 L2893,1585 L2893,1595Z" fill="#bdb865"/>
<clipPath id="mclip"><rect x="2400" y="1400" width="600" height="195"/></clipPath><g fill="#bdb865" clip-path="url(#mclip)"><circle cx="2562" cy="1585" r="42"/><circle cx="2604" cy="1548" r="44"/><circle cx="2681" cy="1530" r="45"/><circle cx="2760" cy="1536" r="43"/><circle cx="2818" cy="1553" r="43"/><circle cx="2853" cy="1588" r="40"/><circle cx="2700" cy="1570" r="60"/><circle cx="2640" cy="1575" r="50"/><circle cx="2780" cy="1575" r="50"/></g>
<path d="M2768.9,2036.9 L2768.9,2052.2 C2770.8,2071.3 2744,2086.6 2741.4,2109.6 L2741.4,2239.7 C2741.4,2262.7 2763.2,2264.6 2790.3,2264.6 C2817.5,2264.6 2839.7,2262.7 2839.7,2239.7 L2839.7,2109.6 C2837,2086.6 2809.9,2071.3 2812.1,2052.2 L2812.1,2036.9Z" fill="#a3c5da"/>
<path d="M2776.6,2042.6 L2776.6,2054.1 C2778.5,2075.2 2750.2,2090.5 2750.2,2111.5 L2750.2,2235.9 C2750.2,2253.1 2767,2255.8 2790.3,2255.8 C2813.7,2255.8 2831.3,2253.1 2831.3,2235.9 L2831.3,2111.5 C2831.3,2090.5 2802.2,2075.2 2804.5,2054.1 L2804.5,2042.6Z" fill="#dcedf6"/>
<path d="M2750.2,2141.4 L2750.2,2235.9 C2750.2,2249.3 2767,2249.3 2790.3,2249.3 C2813.7,2249.3 2831.3,2249.3 2831.3,2235.9 L2831.3,2141.4Z" fill="#dce06f"/>
<ellipse cx="2790.3" cy="2141.4" rx="40.6" ry="15.3" fill="#e7e8a8"/>
<ellipse cx="2790.3" cy="2035" rx="23" ry="9.2" fill="#a3c5da"/>
<path d="M2770.4,2038 Q2790.3,2044.9 2810.2,2038" fill="none" stroke="#fff" stroke-width="1.5"/>
<path d="M2869.5,2160.8 H2971.7 M2920.6,2109.6 V2212" stroke="#000" stroke-width="14.5"/>
<path d="M4082.8,2708.7 L4121.1,2738 L4082.8,2740.3 Z" fill="#f09a2c"/>
<path d="M3904.8,2650.1 C3904.8,2618.6 3927.3,2607.3 3947.6,2610.5 L4121.1,2656.9 L4121.1,2735.8 L4082.8,2708.7 L4082.8,2907 L3904.8,2859.7Z" fill="#f7bf6e"/>
<circle cx="4121.1" cy="2699.7" r="36.1" fill="#f7bf6e"/>
<circle cx="4120.1" cy="2699.7" r="19.4" fill="#fff"/>
<path d="M3904.8,2725.8 C3906.9,2728.2 3913.3,2739 3917.5,2740.2 C3921.7,2741.4 3926,2731.7 3930.2,2732.9 C3934.4,2734.1 3938.7,2746.1 3942.9,2747.3 C3947.2,2748.5 3951.4,2738.8 3955.6,2740 C3959.9,2741.2 3964.1,2753.2 3968.4,2754.4 C3972.6,2755.5 3976.8,2745.9 3981.1,2747.1 C3985.3,2748.3 3989.5,2760.3 3993.8,2761.5 C3998,2762.6 4002.3,2753 4006.5,2754.2 C4010.7,2755.4 4015,2767.4 4019.2,2768.5 C4023.5,2769.7 4027.7,2760.1 4031.9,2761.3 C4036.2,2762.4 4040.4,2774.4 4044.6,2775.6 C4048.9,2776.8 4053.1,2767.2 4057.4,2768.3 C4061.6,2769.5 4065.8,2781.5 4070.1,2782.7 C4074.3,2783.9 4080.7,2776.6 4082.8,2775.4 L4082.8,2907 L3904.8,2859.7Z" fill="#f09a2c"/>
<path d="M3904.8,2793.4 C3906.9,2795.8 3913.3,2806.6 3917.5,2807.8 C3921.7,2809 3926,2799.4 3930.2,2800.5 C3934.4,2801.7 3938.7,2813.7 3942.9,2814.9 C3947.2,2816.1 3951.4,2806.4 3955.6,2807.6 C3959.9,2808.8 3964.1,2820.8 3968.4,2822 C3972.6,2823.2 3976.8,2813.5 3981.1,2814.7 C3985.3,2815.9 3989.5,2827.9 3993.8,2829.1 C3998,2830.2 4002.3,2820.6 4006.5,2821.8 C4010.7,2823 4015,2835 4019.2,2836.1 C4023.5,2837.3 4027.7,2827.7 4031.9,2828.9 C4036.2,2830 4040.4,2842 4044.6,2843.2 C4048.9,2844.4 4053.1,2834.8 4057.4,2835.9 C4061.6,2837.1 4065.8,2849.1 4070.1,2850.3 C4074.3,2851.5 4080.7,2844.2 4082.8,2843 L4082.8,2907 L3904.8,2859.7Z" fill="#e85a0b"/>
<path d="M3904.8,2725.8 C3906.9,2728.2 3913.3,2739 3917.5,2740.2 C3921.7,2741.4 3926,2731.7 3930.2,2732.9 C3934.4,2734.1 3938.7,2746.1 3942.9,2747.3 C3947.2,2748.5 3951.4,2738.8 3955.6,2740 C3959.9,2741.2 3964.1,2753.2 3968.4,2754.4 C3972.6,2755.5 3976.8,2745.9 3981.1,2747.1 C3985.3,2748.3 3989.5,2760.3 3993.8,2761.5 C3998,2762.6 4002.3,2753 4006.5,2754.2 C4010.7,2755.4 4015,2767.4 4019.2,2768.5 C4023.5,2769.7 4027.7,2760.1 4031.9,2761.3 C4036.2,2762.4 4040.4,2774.4 4044.6,2775.6 C4048.9,2776.8 4053.1,2767.2 4057.4,2768.3 C4061.6,2769.5 4065.8,2781.5 4070.1,2782.7 C4074.3,2783.9 4080.7,2776.6 4082.8,2775.4" fill="none" stroke="#fff" stroke-width="3"/>
<path d="M3904.8,2793.4 C3906.9,2795.8 3913.3,2806.6 3917.5,2807.8 C3921.7,2809 3926,2799.4 3930.2,2800.5 C3934.4,2801.7 3938.7,2813.7 3942.9,2814.9 C3947.2,2816.1 3951.4,2806.4 3955.6,2807.6 C3959.9,2808.8 3964.1,2820.8 3968.4,2822 C3972.6,2823.2 3976.8,2813.5 3981.1,2814.7 C3985.3,2815.9 3989.5,2827.9 3993.8,2829.1 C3998,2830.2 4002.3,2820.6 4006.5,2821.8 C4010.7,2823 4015,2835 4019.2,2836.1 C4023.5,2837.3 4027.7,2827.7 4031.9,2828.9 C4036.2,2830 4040.4,2842 4044.6,2843.2 C4048.9,2844.4 4053.1,2834.8 4057.4,2835.9 C4061.6,2837.1 4065.8,2849.1 4070.1,2850.3 C4074.3,2851.5 4080.7,2844.2 4082.8,2843" fill="none" stroke="#fff" stroke-width="3"/>
<path d="M3911.5,2875 C3909,2889 3902,2897 3902,2907 A9.5,9.5 0 0 0 3921,2907 C3921,2897 3914,2889 3911.5,2875Z" fill="#e85a0b"/>
<path d="M4163.9,2771.3 H4259.9 M4212,2723.6 V2819.1" stroke="#000" stroke-width="13.5"/>
<path d="M2484.2,2799.2 C2501.9,2803.7 2515,2795.2 2524.8,2799.2 C2534.6,2795.2 2547.7,2803.7 2566.1,2799.2 L2544.5,2839.8 C2567.4,2865.9 2606.7,2918.3 2616.5,2951.1 C2623,2983.8 2606.7,2995.6 2580.5,2995.6 L2472.4,2995.6 C2446.2,2995.6 2433.2,2983.8 2439.7,2951.1 C2449.5,2918.3 2488.8,2865.9 2508.4,2839.8Z" fill="#dbcba3"/>
<path d="M2499.9,2838.4 L2553,2838.4 L2575.2,2860.7" fill="none" stroke="#e8561e" stroke-width="11.8" stroke-linecap="round" stroke-linejoin="round"/>
<path d="M2498.6,2890.8 L2526.8,2926.2 L2554.9,2890.8 M2526.8,2926.2 L2526.8,2965.5 M2497.3,2918.3 L2557.6,2918.3 M2497.3,2943.2 L2557.6,2943.2" fill="none" stroke="#000" stroke-width="11.1"/>
<path d="M3220.8,2799.2 C3238.5,2803.7 3251.6,2795.2 3261.4,2799.2 C3271.2,2795.2 3284.3,2803.7 3302.7,2799.2 L3281.1,2839.8 C3304,2865.9 3343.3,2918.3 3353.1,2951.1 C3359.6,2983.8 3343.3,2995.6 3317.1,2995.6 L3209,2995.6 C3182.8,2995.6 3169.8,2983.8 3176.3,2951.1 C3186.1,2918.3 3225.4,2865.9 3245,2839.8Z" fill="#dbcba3"/>
<path d="M3236.5,2838.4 L3289.6,2838.4 L3311.8,2860.7" fill="none" stroke="#e8561e" stroke-width="11.8" stroke-linecap="round" stroke-linejoin="round"/>
<path d="M3235.2,2890.8 L3263.4,2926.2 L3291.5,2890.8 M3263.4,2926.2 L3263.4,2965.5 M3233.9,2918.3 L3294.2,2918.3 M3233.9,2943.2 L3294.2,2943.2" fill="none" stroke="#000" stroke-width="11.1"/>
<circle cx="3638.4" cy="1509.3" r="178" fill="#fff" stroke="#d3007f" stroke-width="12.7"/>
<path d="M3582.9,1460.5 C3580.1,1458.3 3577.7,1453.8 3578.5,1447.8 C3579.3,1441.8 3582.2,1432.3 3588,1424.8 C3593.8,1417.3 3604.2,1407.3 3613.5,1403 C3622.8,1398.7 3633.4,1398.6 3644,1398.8 C3654.6,1399 3667.9,1399.7 3677.2,1404.4 C3686.5,1409.2 3695.3,1419.2 3700,1427.3 C3704.7,1435.4 3705.7,1444.4 3705.3,1452.9 C3704.9,1461.4 3701.9,1471.2 3697.7,1478.4 C3693.4,1485.6 3686.2,1490.3 3679.8,1496.2 C3673.4,1502.1 3665.2,1508.4 3659.4,1514 C3653.6,1519.6 3648.2,1524.5 3645,1530 C3641.8,1535.5 3641.1,1541.8 3640.3,1547.2 C3639.5,1552.6 3641,1559.5 3640.3,1562.6 C3639.7,1565.7 3638.1,1565.5 3636.4,1566 C3634.7,1566.5 3631.2,1568.2 3630,1565.5 C3628.8,1562.8 3629.1,1555.4 3629.3,1549.8 C3629.5,1544.2 3629.3,1538.4 3631.3,1532 C3633.3,1525.6 3636.8,1518.7 3641.5,1511.5 C3646.2,1504.3 3653.9,1496.2 3659.4,1488.6 C3664.9,1480.9 3671.5,1472.8 3674.7,1465.6 C3677.9,1458.4 3678.5,1452 3678.5,1445.2 C3678.5,1438.4 3677.4,1430.3 3674.7,1424.8 C3671.9,1419.3 3667.1,1414.8 3662,1412 C3656.9,1409.2 3650.4,1408.2 3644,1408.2 C3637.6,1408.2 3629.2,1409.2 3623.7,1412 C3618.2,1414.8 3613.6,1419.7 3611,1424.8 C3608.4,1429.9 3609,1437.8 3607.9,1442.7 C3606.8,1447.6 3606.6,1451 3604.5,1454 C3602.4,1457 3599.2,1459.7 3595.6,1460.8 C3592,1461.9 3585.8,1462.7 3582.9,1460.5Z" fill="#000"/>
<circle cx="3634.4" cy="1611" r="17.9" fill="#000"/>
<path d="M3147,1176.8 L3155.8,1179 M3197.2,1189.7 L3205.8,1192.3 M3245.8,1205.4 L3254.2,1208.6 M3292.3,1225.3 L3300.5,1229.1 M3338.5,1248.2 L3346.5,1252.2 M3382.5,1270.6 L3390.3,1275 M3426.1,1296.4 L3433.9,1301 M3468.9,1322.5 L3476.5,1327.3 M3509.6,1348.4 L3517.2,1353.2 " fill="none" stroke="#dcdcdc" stroke-width="22" stroke-linecap="round"/>
<path d="M3125.5,1120 L3025.6,1161.4 L3101.6,1221.8Z" fill="#dcdcdc"/>
<path d="M3936.7,1690.2 L3945.3,1696.4 M3984.2,1724.5 L3993,1730.3 M4033.9,1755.1 L4043.1,1760.3 M4084.8,1782.6 L4094.2,1787.2 M4137.4,1806.3 L4147,1810.3 M4190.4,1827.7 L4200.2,1831.3 M4244.5,1846.7 L4254.5,1850.1 " fill="none" stroke="#de93b6" stroke-width="22" stroke-linecap="round"/>
<path d="M3834.7,1595.3 L3942.7,1617.5 L3871.6,1712.9Z" fill="#de93b6"/>
<path d="M3256.2,1168.8 L3412.8,1325.4 M3412.8,1168.8 L3256.2,1325.4" stroke="#e4007f" stroke-width="7.4"/>
<text x="3909 3980.2 4051.4 4122.6 4193.8 4265 4336.2 4407.4 4478.6 4549.8 4621" y="3012.8" font-size="76" fill="#000" stroke="#000" stroke-width="3.8" stroke-linejoin="round" text-anchor="middle" font-family="Liberation Sans">染色で焼却灰に含まれる</text>
<text x="3909 3980.2 4051.4 4122.6 4193.8 4265 4336.2 4407.4 4478.6 4549.8 4621" y="3115.1" font-size="76" fill="#000" stroke="#000" stroke-width="3.8" stroke-linejoin="round" text-anchor="middle" font-family="Liberation Sans">金属類を媒染剤で再利用</text>
<text x="2346 2436 2526 2616 2706" y="3104.6" font-size="88" fill="#000" stroke="#000" stroke-width="4.4" stroke-linejoin="round" text-anchor="middle" font-family="Liberation Sans">染色の売上</text>
<text x="3083 3173 3263 3353 3443" y="3104.6" font-size="88" fill="#000" stroke="#000" stroke-width="4.4" stroke-linejoin="round" text-anchor="middle" font-family="Liberation Sans">染色の売上</text>
<text x="2613 2703 2793 2883 2973" y="2641.6" font-size="88" fill="#000" stroke="#000" stroke-width="4.4" stroke-linejoin="round" text-anchor="middle" font-family="Liberation Sans">売上の一部</text>
<text x="4465.9 4546.3 4626.7 4707.1" y="2415.6" font-size="80" fill="#000" stroke="#000" stroke-width="4" stroke-linejoin="round" text-anchor="middle" font-family="Liberation Sans">焼却灰を</text>
<text x="4548.8 4629.2" y="2519.6" font-size="80" fill="#000" stroke="#000" stroke-width="4" stroke-linejoin="round" text-anchor="middle" font-family="Liberation Sans">排出</text></svg>
</body></html>
